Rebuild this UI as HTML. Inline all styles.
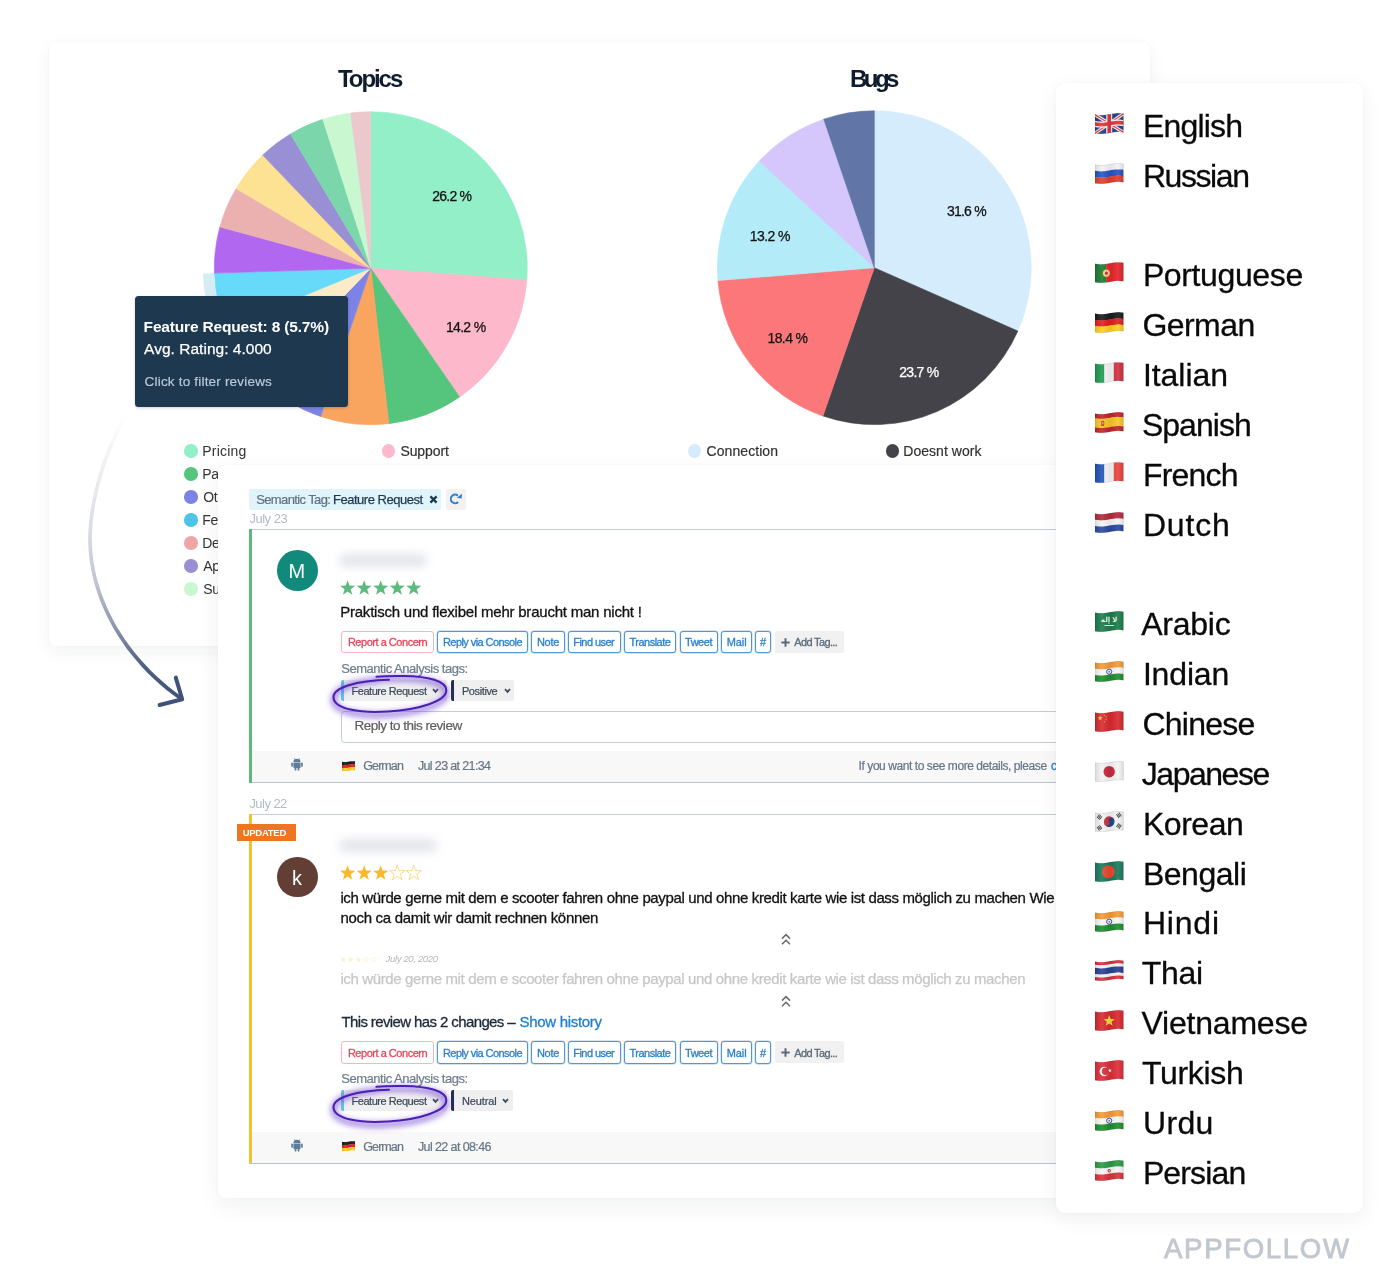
<!DOCTYPE html>
<html lang="en"><head><meta charset="utf-8"><title>AppFollow semantic analysis</title>
<style>
*{box-sizing:border-box;margin:0;padding:0}
html,body{width:1400px;height:1284px;background:#fff;overflow:hidden}
body{position:relative;font-family:"Liberation Sans",sans-serif;color:#111}
.abs{position:absolute}
.t{position:absolute;white-space:nowrap;line-height:1}
.card{position:absolute;background:#fff}
#main{left:49px;top:42px;width:1101px;height:604px;border-radius:7px;box-shadow:0 6px 18px rgba(20,30,50,0.055),0 0 3px rgba(20,30,50,0.03)}
#rev{left:218px;top:465px;width:900px;height:733px;border-radius:7px;box-shadow:0 8px 24px rgba(20,30,50,0.06),0 0 3px rgba(20,30,50,0.03)}
#lang{left:1056px;top:83px;width:307px;height:1130px;border-radius:9px;box-shadow:0 6px 22px rgba(20,30,50,0.06),0 0 3px rgba(20,30,50,0.03)}
.dot{position:absolute;width:13.7px;height:13.7px;border-radius:50%}
.btn{position:absolute;height:22.3px;border:1px solid #4f97d6;border-radius:3px;background:#fff;box-shadow:0 0 0 0.4px rgba(79,151,214,.5)}
.btn.red{border-color:#f8b3bf;box-shadow:none}
.tag{position:absolute;height:21px;background:#efefef;border-radius:2px}
.rc{position:absolute;background:#fff;border:1px solid #c2ccd6;border-top:1.7px solid #c3ccd6;border-bottom:1.4px solid #b9c4cf}
.foot{position:absolute;background:#f8f8f8}
</style></head>
<body>
<svg width="0" height="0" style="position:absolute"><defs>
<linearGradient id="fshade" x1="0" y1="0" x2="1" y2="0"><stop offset="0" stop-color="#000" stop-opacity="0.10"/><stop offset="0.25" stop-color="#fff" stop-opacity="0.10"/><stop offset="0.55" stop-color="#000" stop-opacity="0.06"/><stop offset="0.8" stop-color="#fff" stop-opacity="0.08"/><stop offset="1" stop-color="#000" stop-opacity="0.10"/></linearGradient>
<filter id="glow" x="-30%" y="-60%" width="160%" height="260%"><feGaussianBlur stdDeviation="3.2"/><feOffset dy="3"/></filter>
</defs></svg>
<div class="card" id="main"></div>
<svg class="abs" style="left:0;top:0" width="1150" height="460" viewBox="0 0 1150 460" shape-rendering="geometricPrecision"><path d="M370.80,268.20 L370.80,111.70 A156.5,156.5 0 0 1 526.86,279.93 Z" fill="#93efc8" stroke="#93efc8" stroke-width="0.6"/><path d="M370.80,268.20 L526.86,279.93 A156.5,156.5 0 0 1 459.67,397.02 Z" fill="#fdb9cb" stroke="#fdb9cb" stroke-width="0.6"/><path d="M370.80,268.20 L459.67,397.02 A156.5,156.5 0 0 1 388.79,423.66 Z" fill="#55c57d" stroke="#55c57d" stroke-width="0.6"/><path d="M370.80,268.20 L388.79,423.66 A156.5,156.5 0 0 1 320.62,416.44 Z" fill="#f9a45f" stroke="#f9a45f" stroke-width="0.6"/><path d="M370.80,268.20 L320.62,416.44 A156.5,156.5 0 0 1 262.48,381.16 Z" fill="#7c83e6" stroke="#7c83e6" stroke-width="0.6"/><path d="M370.80,268.20 L262.48,381.16 A156.5,156.5 0 0 1 226.11,327.84 Z" fill="#fdeac6" stroke="#fdeac6" stroke-width="0.6"/><path d="M370.80,268.20 L226.11,327.84 A156.5,156.5 0 0 1 214.38,273.12 Z" fill="#67daf9" stroke="#67daf9" stroke-width="0.6"/><path d="M370.80,268.20 L214.38,273.12 A156.5,156.5 0 0 1 219.85,226.90 Z" fill="#b267f0" stroke="#b267f0" stroke-width="0.6"/><path d="M370.80,268.20 L219.85,226.90 A156.5,156.5 0 0 1 236.09,188.54 Z" fill="#ebb0b0" stroke="#ebb0b0" stroke-width="0.6"/><path d="M370.80,268.20 L236.09,188.54 A156.5,156.5 0 0 1 262.68,155.06 Z" fill="#fde293" stroke="#fde293" stroke-width="0.6"/><path d="M370.80,268.20 L262.68,155.06 A156.5,156.5 0 0 1 290.43,133.91 Z" fill="#998fd4" stroke="#998fd4" stroke-width="0.6"/><path d="M370.80,268.20 L290.43,133.91 A156.5,156.5 0 0 1 322.70,119.28 Z" fill="#7bd6ab" stroke="#7bd6ab" stroke-width="0.6"/><path d="M370.80,268.20 L322.70,119.28 A156.5,156.5 0 0 1 350.64,113.00 Z" fill="#c9f7cf" stroke="#c9f7cf" stroke-width="0.6"/><path d="M370.80,268.20 L350.64,113.00 A156.5,156.5 0 0 1 370.80,111.70 Z" fill="#eac8cc" stroke="#eac8cc" stroke-width="0.6"/><path d="M215.48,332.22 A168.0,168.0 0 0 1 202.88,273.48 L213.88,273.13 A157.0,157.0 0 0 0 225.65,328.03 Z" fill="#d5ecf5"/><path d="M874.30,267.70 L874.30,110.80 A156.9,156.9 0 0 1 1017.86,331.02 Z" fill="#d4ecfb" stroke="#d4ecfb" stroke-width="0.6"/><path d="M874.30,267.70 L1017.86,331.02 A156.9,156.9 0 0 1 822.96,415.96 Z" fill="#434349" stroke="#434349" stroke-width="0.6"/><path d="M874.30,267.70 L822.96,415.96 A156.9,156.9 0 0 1 717.93,280.56 Z" fill="#fc777a" stroke="#fc777a" stroke-width="0.6"/><path d="M874.30,267.70 L717.93,280.56 A156.9,156.9 0 0 1 759.18,161.10 Z" fill="#b3ebf8" stroke="#b3ebf8" stroke-width="0.6"/><path d="M874.30,267.70 L759.18,161.10 A156.9,156.9 0 0 1 823.74,119.17 Z" fill="#d5c7fb" stroke="#d5c7fb" stroke-width="0.6"/><path d="M874.30,267.70 L823.74,119.17 A156.9,156.9 0 0 1 874.30,110.80 Z" fill="#6175a6" stroke="#6175a6" stroke-width="0.6"/></svg>
<span class="t" style="left:338.00px;top:67.10px;font-size:24px;color:#0f1c2e;font-weight:700;letter-spacing:-2.063px;">Topics</span>
<span class="t" style="left:849.90px;top:67.30px;font-size:24px;color:#0f1c2e;font-weight:700;letter-spacing:-3.484px;">Bugs</span>
<span class="t" style="left:432.30px;top:188.60px;font-size:14px;color:#111;letter-spacing:-0.768px;-webkit-text-stroke:0.25px #111;">26.2 %</span>
<span class="t" style="left:445.90px;top:319.80px;font-size:14px;color:#111;letter-spacing:-0.668px;-webkit-text-stroke:0.25px #111;">14.2 %</span>
<span class="t" style="left:947.00px;top:204.10px;font-size:14px;color:#111;letter-spacing:-0.788px;-webkit-text-stroke:0.25px #111;">31.6 %</span>
<span class="t" style="left:899.30px;top:365.00px;font-size:14px;color:#fff;letter-spacing:-0.728px;-webkit-text-stroke:0.25px #fff;">23.7 %</span>
<span class="t" style="left:767.50px;top:331.30px;font-size:14px;color:#111;letter-spacing:-0.608px;-webkit-text-stroke:0.25px #111;">18.4 %</span>
<span class="t" style="left:749.80px;top:228.60px;font-size:14px;color:#111;letter-spacing:-0.588px;-webkit-text-stroke:0.25px #111;">13.2 %</span>
<div class="dot" style="left:183.95px;top:443.85px;background:#93efc8"></div>
<span class="t" style="left:202.30px;top:443.80px;font-size:14px;color:#333;letter-spacing:0.182px;">Pricing</span>
<div class="dot" style="left:183.95px;top:466.88px;background:#55c57d"></div>
<span class="t" style="left:202.30px;top:466.83px;font-size:14px;color:#333;letter-spacing:-0.45px;">Payment</span>
<div class="dot" style="left:183.95px;top:489.91px;background:#7c83e6"></div>
<span class="t" style="left:203.30px;top:489.86px;font-size:14px;color:#333;letter-spacing:-0.45px;">Other</span>
<div class="dot" style="left:183.95px;top:512.94px;background:#4dc3e8"></div>
<span class="t" style="left:202.30px;top:512.89px;font-size:14px;color:#333;letter-spacing:-0.45px;">Feature Request</span>
<div class="dot" style="left:183.95px;top:535.97px;background:#f0a5a5"></div>
<span class="t" style="left:202.30px;top:535.92px;font-size:14px;color:#333;letter-spacing:-0.45px;">Design</span>
<div class="dot" style="left:183.95px;top:559.00px;background:#998fd4"></div>
<span class="t" style="left:203.30px;top:558.95px;font-size:14px;color:#333;letter-spacing:-0.45px;">App</span>
<div class="dot" style="left:183.95px;top:582.03px;background:#c9f7cf"></div>
<span class="t" style="left:203.30px;top:581.98px;font-size:14px;color:#333;letter-spacing:-0.45px;">Subscription</span>
<div class="dot" style="left:381.75px;top:443.85px;background:#fdb9cb"></div>
<span class="t" style="left:400.40px;top:443.80px;font-size:14px;color:#333;letter-spacing:-0.091px;-webkit-text-stroke:0.2px #333;">Support</span>
<div class="abs" style="left:134.9px;top:296px;width:213.2px;height:111.4px;background:#1d384f;border-radius:3.5px;box-shadow:0 1px 3px rgba(0,0,0,.18)"></div>
<span class="t" style="left:143.60px;top:318.50px;font-size:15.5px;color:#fff;font-weight:700;letter-spacing:-0.168px;">Feature Request: 8 (5.7%)</span>
<span class="t" style="left:144.10px;top:340.70px;font-size:15.5px;color:#fff;letter-spacing:0.022px;-webkit-text-stroke:0.25px #fff;">Avg. Rating: 4.000</span>
<span class="t" style="left:144.60px;top:374.90px;font-size:13.5px;color:#b9c9d8;letter-spacing:0.192px;-webkit-text-stroke:0.2px #b9c9d8;">Click to filter reviews</span>
<div class="dot" style="left:687.75px;top:443.85px;background:#d4ecfb"></div>
<span class="t" style="left:706.60px;top:443.80px;font-size:14px;color:#333;letter-spacing:0.062px;-webkit-text-stroke:0.2px #333;">Connection</span>
<div class="dot" style="left:885.55px;top:443.85px;background:#434349"></div>
<span class="t" style="left:903.30px;top:443.80px;font-size:14px;color:#333;letter-spacing:0.029px;-webkit-text-stroke:0.2px #333;">Doesnt work</span>
<svg class="abs" style="left:0;top:380px" width="260" height="360" viewBox="0 380 260 360" fill="none">
<defs><linearGradient id="ag" gradientUnits="userSpaceOnUse" x1="0" y1="415" x2="0" y2="700">
<stop offset="0" stop-color="#41527a" stop-opacity="0"/><stop offset="0.14" stop-color="#41527a" stop-opacity="0.07"/><stop offset="0.4" stop-color="#41527a" stop-opacity="0.2"/><stop offset="0.58" stop-color="#41527a" stop-opacity="0.33"/><stop offset="0.73" stop-color="#41527a" stop-opacity="0.58"/><stop offset="0.88" stop-color="#41527a" stop-opacity="0.92"/><stop offset="1" stop-color="#41527a" stop-opacity="1"/></linearGradient></defs>
<path d="M126.5,411.1 L123.6,415.9 L120.9,420.9 L118.2,426.0 L115.6,431.1 L113.1,436.4 L110.7,441.7 L108.4,447.1 L106.3,452.5 L104.2,458.0 L102.2,463.6 L100.4,469.1 L98.7,474.7 L97.0,480.3 L95.6,485.9 L94.2,491.5 L93.0,497.1 L91.9,502.7 L90.9,508.2 L90.1,513.6 L89.4,519.1 L88.9,524.4 L88.5,529.7 L88.2,534.9 L88.2,540.0 L88.1,540.1 L88.4,547.6 L89.0,555.2 L90.0,562.7 L91.3,570.3 L92.9,577.7 L94.9,585.2 L97.2,592.6 L99.8,599.9 L102.8,607.1 L106.0,614.3 L109.6,621.3 L113.4,628.3 L117.5,635.1 L122.0,641.8 L126.6,648.4 L131.6,654.8 L136.8,661.1 L142.2,667.2 L147.9,673.2 L153.9,679.0 L160.0,684.6 L166.4,689.9 L173.1,695.1 L179.9,700.1 L182.1,696.9 L175.4,692.0 L168.9,686.9 L162.6,681.6 L156.5,676.1 L150.7,670.5 L145.1,664.6 L139.7,658.6 L134.6,652.4 L129.7,646.1 L125.1,639.7 L120.8,633.1 L116.7,626.4 L112.9,619.5 L109.4,612.6 L106.2,605.6 L103.4,598.5 L100.8,591.4 L98.5,584.1 L96.5,576.9 L94.9,569.5 L93.6,562.2 L92.7,554.8 L92.1,547.4 L91.9,539.9 L91.8,540.0 L91.9,535.0 L92.1,529.9 L92.5,524.7 L93.0,519.5 L93.7,514.1 L94.5,508.8 L95.4,503.3 L96.5,497.9 L97.7,492.3 L99.1,486.8 L100.5,481.3 L102.1,475.8 L103.8,470.2 L105.6,464.7 L107.5,459.3 L109.6,453.8 L111.7,448.4 L114.0,443.1 L116.3,437.9 L118.8,432.7 L121.3,427.6 L124.0,422.6 L126.7,417.7 L129.5,412.9Z" fill="url(#ag)"/>
<path d="M175.8,677.6 L182.2,699.3 L159.6,705" stroke="#41527a" stroke-width="4" stroke-linecap="round" stroke-linejoin="round"/>
</svg>
<div class="card" id="rev"></div>
<div class="abs" style="left:249px;top:489px;width:191.5px;height:20.6px;background:#e2f4fb;border-radius:2px"></div>
<span class="t" style="left:256.20px;top:493.00px;font-size:13px;color:#5d7283;letter-spacing:-0.613px;-webkit-text-stroke:0.2px #5d7283;">Semantic Tag:</span>
<span class="t" style="left:333.00px;top:493.00px;font-size:13px;color:#1d384f;letter-spacing:-0.480px;-webkit-text-stroke:0.25px #1d384f;">Feature Request</span>
<svg class="abs" style="left:429px;top:495px" width="9" height="9" viewBox="0 0 9 9"><path d="M1.4,1.4 L7.6,7.6 M7.6,1.4 L1.4,7.6" stroke="#1d384f" stroke-width="2.3"/></svg>
<div class="abs" style="left:445.5px;top:489px;width:20.5px;height:20.6px;background:#f4f2f1;border-radius:2px"></div>
<svg class="abs" style="left:450px;top:493px" width="14" height="13" viewBox="0 0 14 13" fill="none"><path d="M7.86,2.61 A4.3,4.3 0 1 0 8.14,8.94" stroke="#2a80cf" stroke-width="2"/><path d="M6.9,4.7 L11.9,0.7 L11.7,5.6 Z" fill="#2a80cf"/></svg>
<span class="t" style="left:249.40px;top:511.90px;font-size:13px;color:#b3bbc9;letter-spacing:-0.493px;">July 23</span>
<div class="rc" style="left:249px;top:529px;width:870px;height:254px"></div>
<div class="foot" style="left:252px;top:751.2px;width:860px;height:30.8px"></div>
<svg class="abs" style="left:290.6px;top:758.2px" width="12" height="13" viewBox="0 0 12 13" fill="#5d7c9a"><path d="M2.4,4.6 H9.6 V9.3 Q9.6,10 8.9,10 H3.1 Q2.4,10 2.4,9.3 Z"/><path d="M2.4,4.1 A3.6,3.4 0 0 1 9.6,4.1 Z"/><rect x="0.2" y="4.6" width="1.7" height="4.2" rx="0.85"/><rect x="10.1" y="4.6" width="1.7" height="4.2" rx="0.85"/><rect x="3.6" y="9" width="1.8" height="3.6" rx="0.9"/><rect x="6.6" y="9" width="1.8" height="3.6" rx="0.9"/><path d="M3.2,0.2 L4.2,1.6 M8.8,0.2 L7.8,1.6" stroke="#5d7c9a" stroke-width="0.6"/></svg>
<svg class="abs" style="left:341.8px;top:760.5px" width="13.6" height="10.2" viewBox="0 0 29.0 21.0" preserveAspectRatio="none"><path d="M0.00,1.62 L2.07,1.94 L4.14,2.16 L6.21,2.25 L8.29,2.20 L10.36,2.01 L12.43,1.71 L14.50,1.34 L16.57,0.97 L18.64,0.63 L20.71,0.38 L22.79,0.26 L24.86,0.28 L26.93,0.44 L29.00,0.71 L29.00,7.15 L26.93,6.87 L24.86,6.71 L22.79,6.69 L20.71,6.82 L18.64,7.06 L16.57,7.40 L14.50,7.78 L12.43,8.14 L10.36,8.44 L8.29,8.63 L6.21,8.68 L4.14,8.59 L2.07,8.37 L0.00,8.05Z" fill="#1a1a1a" /><path d="M0.00,7.75 L2.07,8.07 L4.14,8.29 L6.21,8.38 L8.29,8.33 L10.36,8.14 L12.43,7.84 L14.50,7.48 L16.57,7.10 L18.64,6.76 L20.71,6.52 L22.79,6.39 L24.86,6.41 L26.93,6.57 L29.00,6.85 L29.00,13.28 L26.93,13.01 L24.86,12.85 L22.79,12.83 L20.71,12.95 L18.64,13.20 L16.57,13.53 L14.50,13.91 L12.43,14.27 L10.36,14.57 L8.29,14.76 L6.21,14.82 L4.14,14.73 L2.07,14.50 L0.00,14.18Z" fill="#e0201f" /><path d="M0.00,13.88 L2.07,14.20 L4.14,14.43 L6.21,14.52 L8.29,14.46 L10.36,14.27 L12.43,13.97 L14.50,13.61 L16.57,13.23 L18.64,12.90 L20.71,12.65 L22.79,12.53 L24.86,12.55 L26.93,12.71 L29.00,12.98 L29.00,19.26 L26.93,18.99 L24.86,18.83 L22.79,18.81 L20.71,18.93 L18.64,19.18 L16.57,19.52 L14.50,19.89 L12.43,20.26 L10.36,20.56 L8.29,20.75 L6.21,20.80 L4.14,20.71 L2.07,20.49 L0.00,20.17Z" fill="#fccf1b" /><path d="M0.00,1.77 L2.07,2.09 L4.14,2.31 L6.21,2.40 L8.29,2.35 L10.36,2.16 L12.43,1.86 L14.50,1.49 L16.57,1.12 L18.64,0.78 L20.71,0.53 L22.79,0.41 L24.86,0.43 L26.93,0.59 L29.00,0.86 L29.00,19.26 L26.93,18.99 L24.86,18.83 L22.79,18.81 L20.71,18.93 L18.64,19.18 L16.57,19.52 L14.50,19.89 L12.43,20.26 L10.36,20.56 L8.29,20.75 L6.21,20.80 L4.14,20.71 L2.07,20.49 L0.00,20.17Z" fill="url(#fshade)" /><path d="M0.00,1.77 L2.07,2.09 L4.14,2.31 L6.21,2.40 L8.29,2.35 L10.36,2.16 L12.43,1.86 L14.50,1.49 L16.57,1.12 L18.64,0.78 L20.71,0.53 L22.79,0.41 L24.86,0.43 L26.93,0.59 L29.00,0.86 L29.00,19.26 L26.93,18.99 L24.86,18.83 L22.79,18.81 L20.71,18.93 L18.64,19.18 L16.57,19.52 L14.50,19.89 L12.43,20.26 L10.36,20.56 L8.29,20.75 L6.21,20.80 L4.14,20.71 L2.07,20.49 L0.00,20.17Z" fill="none" stroke="rgba(0,0,0,0.18)" stroke-width="0.5"/></svg>
<span class="t" style="left:363.30px;top:760.10px;font-size:12.5px;color:#647585;letter-spacing:-0.920px;-webkit-text-stroke:0.2px #647585;">German</span>
<span class="t" style="left:417.90px;top:760.10px;font-size:12.5px;color:#647585;letter-spacing:-0.632px;-webkit-text-stroke:0.2px #647585;">Jul 23 at 21:34</span>
<div class="abs" style="left:249px;top:529.3px;width:3.1px;height:253.6px;background:#5dba7d"></div>
<div class="abs" style="left:277.2px;top:550.1px;width:40.6px;height:40.6px;border-radius:50%;background:#128a7b"></div>
<span class="t" style="left:288.40px;top:560.50px;font-size:20px;color:#fff;">M</span>
<div class="abs" style="left:339px;top:553.5px;width:88px;height:13px;border-radius:6px;background:#d3d6de;filter:blur(5px);opacity:.62"></div>
<svg class="abs" style="left:340px;top:580.2px" width="84.8" height="17.2" viewBox="0 0 84.8 17.2"><polygon points="7.60,0.22 9.48,5.62 15.19,5.73 10.64,9.19 12.29,14.66 7.60,11.39 2.91,14.66 4.56,9.19 0.01,5.73 5.72,5.62" fill="#5dba7d"/><polygon points="24.15,0.22 26.03,5.62 31.74,5.73 27.19,9.19 28.84,14.66 24.15,11.39 19.46,14.66 21.11,9.19 16.56,5.73 22.27,5.62" fill="#5dba7d"/><polygon points="40.70,0.22 42.58,5.62 48.29,5.73 43.74,9.19 45.39,14.66 40.70,11.39 36.01,14.66 37.66,9.19 33.11,5.73 38.82,5.62" fill="#5dba7d"/><polygon points="57.25,0.22 59.13,5.62 64.84,5.73 60.29,9.19 61.94,14.66 57.25,11.39 52.56,14.66 54.21,9.19 49.66,5.73 55.37,5.62" fill="#5dba7d"/><polygon points="73.80,0.22 75.68,5.62 81.39,5.73 76.84,9.19 78.49,14.66 73.80,11.39 69.11,14.66 70.76,9.19 66.21,5.73 71.92,5.62" fill="#5dba7d"/></svg>
<span class="t" style="left:340.20px;top:604.10px;font-size:15px;color:#111;letter-spacing:-0.221px;-webkit-text-stroke:0.3px #111;">Praktisch und flexibel mehr braucht man nicht !</span>
<div class="btn red" style="left:341.1px;top:631.0px;width:93.3px"></div>
<span class="t" style="left:347.90px;top:637.20px;font-size:11px;color:#e8445a;letter-spacing:-0.474px;-webkit-text-stroke:0.3px #e8445a;">Report a Concern</span>
<div class="btn" style="left:437.1px;top:631.0px;width:91.1px"></div>
<span class="t" style="left:443.00px;top:637.20px;font-size:11px;color:#2a7fc9;letter-spacing:-0.571px;-webkit-text-stroke:0.3px #2a7fc9;">Reply via Console</span>
<div class="btn" style="left:531.4px;top:631.0px;width:33.6px"></div>
<span class="t" style="left:536.90px;top:637.20px;font-size:11px;color:#2a7fc9;letter-spacing:-0.239px;-webkit-text-stroke:0.3px #2a7fc9;">Note</span>
<div class="btn" style="left:567.8px;top:631.0px;width:53.0px"></div>
<span class="t" style="left:573.30px;top:637.20px;font-size:11px;color:#2a7fc9;letter-spacing:-0.561px;-webkit-text-stroke:0.3px #2a7fc9;">Find user</span>
<div class="btn" style="left:623.9px;top:631.0px;width:52.4px"></div>
<span class="t" style="left:629.40px;top:637.20px;font-size:11px;color:#2a7fc9;letter-spacing:-0.491px;-webkit-text-stroke:0.3px #2a7fc9;">Translate</span>
<div class="btn" style="left:679.5px;top:631.0px;width:38.5px"></div>
<span class="t" style="left:685.00px;top:637.20px;font-size:11px;color:#2a7fc9;letter-spacing:-0.473px;-webkit-text-stroke:0.3px #2a7fc9;">Tweet</span>
<div class="btn" style="left:721.3px;top:631.0px;width:30.5px"></div>
<span class="t" style="left:726.70px;top:637.20px;font-size:11px;color:#2a7fc9;letter-spacing:-0.075px;-webkit-text-stroke:0.3px #2a7fc9;">Mail</span>
<div class="btn" style="left:755.0px;top:631.0px;width:16.0px"></div>
<span class="t" style="left:760.00px;top:637.20px;font-size:11px;color:#2a7fc9;-webkit-text-stroke:0.3px #2a7fc9;">#</span>
<div class="abs" style="left:775px;top:631.0px;width:68.5px;height:22px;background:#f1f1f1;border-radius:2px"></div>
<svg class="abs" style="left:781px;top:637.5px" width="9" height="9" viewBox="0 0 9 9"><path d="M4.5,0.3 V8.7 M0.3,4.5 H8.7" stroke="#5b6b7a" stroke-width="2"/></svg>
<span class="t" style="left:794.20px;top:637.20px;font-size:11px;color:#5b6b7a;letter-spacing:-0.631px;-webkit-text-stroke:0.3px #5b6b7a;">Add Tag...</span>
<span class="t" style="left:341.30px;top:662.20px;font-size:13px;color:#6d7d8b;letter-spacing:-0.477px;-webkit-text-stroke:0.2px #6d7d8b;">Semantic Analysis tags:</span>
<div class="tag" style="left:341px;top:680px;width:105.8px;border-left:3.2px solid #5fc9ee"></div>
<span class="t" style="left:351.50px;top:685.60px;font-size:11px;color:#3a4858;letter-spacing:-0.463px;-webkit-text-stroke:0.2px #3a4858;">Feature Request</span>
<svg class="abs" style="left:432.3px;top:687.6px" width="7" height="6" viewBox="0 0 7 6" fill="none"><path d="M1,1.2 L3.5,3.9 L6,1.2" stroke="#3a4858" stroke-width="1.7"/></svg>
<div class="tag" style="left:451px;top:680px;width:63.3px;border-left:3.4px solid #1f3050"></div>
<span class="t" style="left:461.90px;top:685.60px;font-size:11px;color:#3a4858;letter-spacing:-0.385px;-webkit-text-stroke:0.2px #3a4858;">Positive</span>
<svg class="abs" style="left:503.6px;top:687.6px" width="7" height="6" viewBox="0 0 7 6" fill="none"><path d="M1,1.2 L3.5,3.9 L6,1.2" stroke="#3a4858" stroke-width="1.7"/></svg>
<div class="abs" style="left:341px;top:710.6px;width:760px;height:32px;border:1px solid #c3ccd6;border-radius:3.5px;background:#fff"></div>
<span class="t" style="left:354.40px;top:718.60px;font-size:13.5px;color:#5c5c5c;letter-spacing:-0.489px;-webkit-text-stroke:0.2px #5c5c5c;">Reply to this review</span>
<svg class="abs" style="left:315.3px;top:660.5px;overflow:visible" width="150" height="70" viewBox="-75 -35 150 70" fill="none">
<g filter="url(#glow)"><path d="M-13,-18.5 C-40,-17 -57,-9 -56.5,1.5 C-56,13 -30,17.5 -2,15.5 C30,13.5 56,5 56.3,-5.5 C56.5,-15 38,-20.5 12,-20.5 C-2,-20.5 -10,-20 -14,-19.3" stroke="#6a3fd0" stroke-opacity="0.8" stroke-width="4.5"/></g>
<path d="M-1,-16.2 C-34,-15.5 -57,-8 -56.5,1.5 C-56,13 -30,17.5 -2,15.5 C30,13.5 56,5 56.3,-5.5 C56.5,-15 38,-19.6 14,-20 C2,-20.2 -8,-19.8 -13.5,-19.2" stroke="#4b1fb4" stroke-width="2.1" stroke-linecap="round"/>
</svg>
<span class="t" style="left:858.60px;top:760.10px;font-size:12px;color:#647585;letter-spacing:-0.429px;-webkit-text-stroke:0.2px #647585;">If you want to see more details, please</span>
<span class="t" style="left:1050.90px;top:760.10px;font-size:12px;color:#2a7fc9;-webkit-text-stroke:0.35px #2a7fc9;">c</span>
<span class="t" style="left:249.40px;top:796.50px;font-size:13px;color:#b3bbc9;letter-spacing:-0.543px;">July 22</span>
<div class="rc" style="left:249px;top:813.6px;width:870px;height:350px"></div>
<div class="foot" style="left:252px;top:1131.8px;width:860px;height:30.8px"></div>
<svg class="abs" style="left:290.6px;top:1138.8px" width="12" height="13" viewBox="0 0 12 13" fill="#5d7c9a"><path d="M2.4,4.6 H9.6 V9.3 Q9.6,10 8.9,10 H3.1 Q2.4,10 2.4,9.3 Z"/><path d="M2.4,4.1 A3.6,3.4 0 0 1 9.6,4.1 Z"/><rect x="0.2" y="4.6" width="1.7" height="4.2" rx="0.85"/><rect x="10.1" y="4.6" width="1.7" height="4.2" rx="0.85"/><rect x="3.6" y="9" width="1.8" height="3.6" rx="0.9"/><rect x="6.6" y="9" width="1.8" height="3.6" rx="0.9"/><path d="M3.2,0.2 L4.2,1.6 M8.8,0.2 L7.8,1.6" stroke="#5d7c9a" stroke-width="0.6"/></svg>
<svg class="abs" style="left:341.8px;top:1141.1px" width="13.6" height="10.2" viewBox="0 0 29.0 21.0" preserveAspectRatio="none"><path d="M0.00,1.62 L2.07,1.94 L4.14,2.16 L6.21,2.25 L8.29,2.20 L10.36,2.01 L12.43,1.71 L14.50,1.34 L16.57,0.97 L18.64,0.63 L20.71,0.38 L22.79,0.26 L24.86,0.28 L26.93,0.44 L29.00,0.71 L29.00,7.15 L26.93,6.87 L24.86,6.71 L22.79,6.69 L20.71,6.82 L18.64,7.06 L16.57,7.40 L14.50,7.78 L12.43,8.14 L10.36,8.44 L8.29,8.63 L6.21,8.68 L4.14,8.59 L2.07,8.37 L0.00,8.05Z" fill="#1a1a1a" /><path d="M0.00,7.75 L2.07,8.07 L4.14,8.29 L6.21,8.38 L8.29,8.33 L10.36,8.14 L12.43,7.84 L14.50,7.48 L16.57,7.10 L18.64,6.76 L20.71,6.52 L22.79,6.39 L24.86,6.41 L26.93,6.57 L29.00,6.85 L29.00,13.28 L26.93,13.01 L24.86,12.85 L22.79,12.83 L20.71,12.95 L18.64,13.20 L16.57,13.53 L14.50,13.91 L12.43,14.27 L10.36,14.57 L8.29,14.76 L6.21,14.82 L4.14,14.73 L2.07,14.50 L0.00,14.18Z" fill="#e0201f" /><path d="M0.00,13.88 L2.07,14.20 L4.14,14.43 L6.21,14.52 L8.29,14.46 L10.36,14.27 L12.43,13.97 L14.50,13.61 L16.57,13.23 L18.64,12.90 L20.71,12.65 L22.79,12.53 L24.86,12.55 L26.93,12.71 L29.00,12.98 L29.00,19.26 L26.93,18.99 L24.86,18.83 L22.79,18.81 L20.71,18.93 L18.64,19.18 L16.57,19.52 L14.50,19.89 L12.43,20.26 L10.36,20.56 L8.29,20.75 L6.21,20.80 L4.14,20.71 L2.07,20.49 L0.00,20.17Z" fill="#fccf1b" /><path d="M0.00,1.77 L2.07,2.09 L4.14,2.31 L6.21,2.40 L8.29,2.35 L10.36,2.16 L12.43,1.86 L14.50,1.49 L16.57,1.12 L18.64,0.78 L20.71,0.53 L22.79,0.41 L24.86,0.43 L26.93,0.59 L29.00,0.86 L29.00,19.26 L26.93,18.99 L24.86,18.83 L22.79,18.81 L20.71,18.93 L18.64,19.18 L16.57,19.52 L14.50,19.89 L12.43,20.26 L10.36,20.56 L8.29,20.75 L6.21,20.80 L4.14,20.71 L2.07,20.49 L0.00,20.17Z" fill="url(#fshade)" /><path d="M0.00,1.77 L2.07,2.09 L4.14,2.31 L6.21,2.40 L8.29,2.35 L10.36,2.16 L12.43,1.86 L14.50,1.49 L16.57,1.12 L18.64,0.78 L20.71,0.53 L22.79,0.41 L24.86,0.43 L26.93,0.59 L29.00,0.86 L29.00,19.26 L26.93,18.99 L24.86,18.83 L22.79,18.81 L20.71,18.93 L18.64,19.18 L16.57,19.52 L14.50,19.89 L12.43,20.26 L10.36,20.56 L8.29,20.75 L6.21,20.80 L4.14,20.71 L2.07,20.49 L0.00,20.17Z" fill="none" stroke="rgba(0,0,0,0.18)" stroke-width="0.5"/></svg>
<span class="t" style="left:363.30px;top:1140.70px;font-size:12.5px;color:#647585;letter-spacing:-0.920px;-webkit-text-stroke:0.2px #647585;">German</span>
<span class="t" style="left:417.90px;top:1140.70px;font-size:12.5px;color:#647585;letter-spacing:-0.597px;-webkit-text-stroke:0.2px #647585;">Jul 22 at 08:46</span>
<div class="abs" style="left:249px;top:814px;width:3.1px;height:349.4px;background:#f6c12f"></div>
<div class="abs" style="left:236.8px;top:824.2px;width:59.2px;height:16.6px;background:#ee7623"></div>
<span class="t" style="left:242.70px;top:828.40px;font-size:9.5px;color:#fff;font-weight:700;letter-spacing:-0.275px;">UPDATED</span>
<div class="abs" style="left:339px;top:838.5px;width:98px;height:13px;border-radius:6px;background:#d3d6de;filter:blur(5px);opacity:.62"></div>
<div class="abs" style="left:277.2px;top:856.7px;width:40.6px;height:40.6px;border-radius:50%;background:#633e35"></div>
<span class="t" style="left:292.10px;top:867.50px;font-size:20px;color:#fff;">k</span>
<svg class="abs" style="left:340px;top:865.0px" width="84.8" height="17.2" viewBox="0 0 84.8 17.2"><polygon points="7.60,0.22 9.48,5.62 15.19,5.73 10.64,9.19 12.29,14.66 7.60,11.39 2.91,14.66 4.56,9.19 0.01,5.73 5.72,5.62" fill="#f7b928"/><polygon points="24.15,0.22 26.03,5.62 31.74,5.73 27.19,9.19 28.84,14.66 24.15,11.39 19.46,14.66 21.11,9.19 16.56,5.73 22.27,5.62" fill="#f7b928"/><polygon points="40.70,0.22 42.58,5.62 48.29,5.73 43.74,9.19 45.39,14.66 40.70,11.39 36.01,14.66 37.66,9.19 33.11,5.73 38.82,5.62" fill="#f7b928"/><polygon points="57.25,0.22 59.13,5.62 64.84,5.73 60.29,9.19 61.94,14.66 57.25,11.39 52.56,14.66 54.21,9.19 49.66,5.73 55.37,5.62" fill="none" stroke="#f7b928" stroke-width="0.9" stroke-opacity="0.6"/><polygon points="73.80,0.22 75.68,5.62 81.39,5.73 76.84,9.19 78.49,14.66 73.80,11.39 69.11,14.66 70.76,9.19 66.21,5.73 71.92,5.62" fill="none" stroke="#f7b928" stroke-width="0.9" stroke-opacity="0.6"/></svg>
<span class="t" style="left:340.40px;top:890.00px;font-size:15px;color:#111;letter-spacing:-0.359px;-webkit-text-stroke:0.3px #111;">ich würde gerne mit dem e scooter fahren ohne paypal und ohne kredit karte wie ist dass möglich zu machen Wie</span>
<span class="t" style="left:340.40px;top:909.50px;font-size:15px;color:#111;letter-spacing:-0.307px;-webkit-text-stroke:0.3px #111;">noch ca damit wir damit rechnen können</span>
<svg class="abs" style="filter:blur(0.5px);left:340px;top:955.8px" width="40.5" height="8.2" viewBox="0 0 40.5 8.2"><polygon points="3.10,0.44 3.87,2.65 6.20,2.69 4.34,4.10 5.01,6.33 3.10,5.00 1.19,6.33 1.86,4.10 0.00,2.69 2.33,2.65" fill="#fdefcc"/><polygon points="10.80,0.44 11.57,2.65 13.90,2.69 12.04,4.10 12.71,6.33 10.80,5.00 8.89,6.33 9.56,4.10 7.70,2.69 10.03,2.65" fill="#fdefcc"/><polygon points="18.50,0.44 19.27,2.65 21.60,2.69 19.74,4.10 20.41,6.33 18.50,5.00 16.59,6.33 17.26,4.10 15.40,2.69 17.73,2.65" fill="#fdefcc"/><polygon points="26.20,0.44 26.97,2.65 29.30,2.69 27.44,4.10 28.11,6.33 26.20,5.00 24.29,6.33 24.96,4.10 23.10,2.69 25.43,2.65" fill="none" stroke="#fdefcc" stroke-width="0.9" stroke-opacity="0.6"/><polygon points="33.90,0.44 34.67,2.65 37.00,2.69 35.14,4.10 35.81,6.33 33.90,5.00 31.99,6.33 32.66,4.10 30.80,2.69 33.13,2.65" fill="none" stroke="#fdefcc" stroke-width="0.9" stroke-opacity="0.6"/></svg>
<span class="t" style="left:385.60px;top:953.80px;font-size:9.5px;color:#b8b8b8;font-style:italic;letter-spacing:-0.344px;">July 20, 2020</span>
<span class="t" style="left:340.40px;top:970.80px;font-size:15px;color:#c6c6c6;letter-spacing:-0.363px;-webkit-text-stroke:0.25px #c6c6c6;">ich würde gerne mit dem e scooter fahren ohne paypal und ohne kredit karte wie ist dass möglich zu machen</span>
<svg class="abs" style="left:781.3px;top:933.3px" width="10" height="13" viewBox="0 0 10 13" fill="none"><path d="M1,5.6 L5,1.6 L9,5.6 M1,11.2 L5,7.2 L9,11.2" stroke="#6a6a6a" stroke-width="1.5"/></svg>
<svg class="abs" style="left:781.3px;top:995.3px" width="10" height="13" viewBox="0 0 10 13" fill="none"><path d="M1,5.6 L5,1.6 L9,5.6 M1,11.2 L5,7.2 L9,11.2" stroke="#6a6a6a" stroke-width="1.5"/></svg>
<span class="t" style="left:341.40px;top:1014.00px;font-size:15px;color:#1b2837;letter-spacing:-0.610px;-webkit-text-stroke:0.3px #1b2837;">This review has 2 changes –</span>
<span class="t" style="left:519.60px;top:1014.00px;font-size:15px;color:#1f7fd0;letter-spacing:-0.315px;-webkit-text-stroke:0.3px #1f7fd0;">Show history</span>
<div class="btn red" style="left:341.1px;top:1041.3px;width:93.3px"></div>
<span class="t" style="left:347.90px;top:1047.50px;font-size:11px;color:#e8445a;letter-spacing:-0.474px;-webkit-text-stroke:0.3px #e8445a;">Report a Concern</span>
<div class="btn" style="left:437.1px;top:1041.3px;width:91.1px"></div>
<span class="t" style="left:443.00px;top:1047.50px;font-size:11px;color:#2a7fc9;letter-spacing:-0.571px;-webkit-text-stroke:0.3px #2a7fc9;">Reply via Console</span>
<div class="btn" style="left:531.4px;top:1041.3px;width:33.6px"></div>
<span class="t" style="left:536.90px;top:1047.50px;font-size:11px;color:#2a7fc9;letter-spacing:-0.239px;-webkit-text-stroke:0.3px #2a7fc9;">Note</span>
<div class="btn" style="left:567.8px;top:1041.3px;width:53.0px"></div>
<span class="t" style="left:573.30px;top:1047.50px;font-size:11px;color:#2a7fc9;letter-spacing:-0.561px;-webkit-text-stroke:0.3px #2a7fc9;">Find user</span>
<div class="btn" style="left:623.9px;top:1041.3px;width:52.4px"></div>
<span class="t" style="left:629.40px;top:1047.50px;font-size:11px;color:#2a7fc9;letter-spacing:-0.491px;-webkit-text-stroke:0.3px #2a7fc9;">Translate</span>
<div class="btn" style="left:679.5px;top:1041.3px;width:38.5px"></div>
<span class="t" style="left:685.00px;top:1047.50px;font-size:11px;color:#2a7fc9;letter-spacing:-0.473px;-webkit-text-stroke:0.3px #2a7fc9;">Tweet</span>
<div class="btn" style="left:721.3px;top:1041.3px;width:30.5px"></div>
<span class="t" style="left:726.70px;top:1047.50px;font-size:11px;color:#2a7fc9;letter-spacing:-0.075px;-webkit-text-stroke:0.3px #2a7fc9;">Mail</span>
<div class="btn" style="left:755.0px;top:1041.3px;width:16.0px"></div>
<span class="t" style="left:760.00px;top:1047.50px;font-size:11px;color:#2a7fc9;-webkit-text-stroke:0.3px #2a7fc9;">#</span>
<div class="abs" style="left:775px;top:1041.3px;width:68.5px;height:22px;background:#f1f1f1;border-radius:2px"></div>
<svg class="abs" style="left:781px;top:1047.8px" width="9" height="9" viewBox="0 0 9 9"><path d="M4.5,0.3 V8.7 M0.3,4.5 H8.7" stroke="#5b6b7a" stroke-width="2"/></svg>
<span class="t" style="left:794.20px;top:1047.50px;font-size:11px;color:#5b6b7a;letter-spacing:-0.631px;-webkit-text-stroke:0.3px #5b6b7a;">Add Tag...</span>
<span class="t" style="left:341.30px;top:1072.20px;font-size:13px;color:#6d7d8b;letter-spacing:-0.477px;-webkit-text-stroke:0.2px #6d7d8b;">Semantic Analysis tags:</span>
<div class="tag" style="left:341px;top:1090px;width:105.8px;border-left:3.2px solid #5fc9ee"></div>
<span class="t" style="left:351.50px;top:1095.60px;font-size:11px;color:#3a4858;letter-spacing:-0.463px;-webkit-text-stroke:0.2px #3a4858;">Feature Request</span>
<svg class="abs" style="left:432.3px;top:1097.6px" width="7" height="6" viewBox="0 0 7 6" fill="none"><path d="M1,1.2 L3.5,3.9 L6,1.2" stroke="#3a4858" stroke-width="1.7"/></svg>
<div class="tag" style="left:451px;top:1090px;width:62.2px;border-left:3.4px solid #1f3050"></div>
<span class="t" style="left:461.90px;top:1095.60px;font-size:11px;color:#3a4858;letter-spacing:-0.119px;-webkit-text-stroke:0.2px #3a4858;">Neutral</span>
<svg class="abs" style="left:502.2px;top:1097.6px" width="7" height="6" viewBox="0 0 7 6" fill="none"><path d="M1,1.2 L3.5,3.9 L6,1.2" stroke="#3a4858" stroke-width="1.7"/></svg>
<svg class="abs" style="left:315.3px;top:1070.5px;overflow:visible" width="150" height="70" viewBox="-75 -35 150 70" fill="none">
<g filter="url(#glow)"><path d="M-13,-18.5 C-40,-17 -57,-9 -56.5,1.5 C-56,13 -30,17.5 -2,15.5 C30,13.5 56,5 56.3,-5.5 C56.5,-15 38,-20.5 12,-20.5 C-2,-20.5 -10,-20 -14,-19.3" stroke="#6a3fd0" stroke-opacity="0.8" stroke-width="4.5"/></g>
<path d="M-1,-16.2 C-34,-15.5 -57,-8 -56.5,1.5 C-56,13 -30,17.5 -2,15.5 C30,13.5 56,5 56.3,-5.5 C56.5,-15 38,-19.6 14,-20 C2,-20.2 -8,-19.8 -13.5,-19.2" stroke="#4b1fb4" stroke-width="2.1" stroke-linecap="round"/>
</svg>
<div class="card" id="lang"></div>
<svg class="abs" style="left:1095.3px;top:112.9px" width="28.4" height="21" viewBox="0 0 29.0 21.0" preserveAspectRatio="none"><path d="M0.00,1.62 L2.07,1.94 L4.14,2.16 L6.21,2.25 L8.29,2.20 L10.36,2.01 L12.43,1.71 L14.50,1.34 L16.57,0.97 L18.64,0.63 L20.71,0.38 L22.79,0.26 L24.86,0.28 L26.93,0.44 L29.00,0.71 L29.00,19.26 L26.93,18.99 L24.86,18.83 L22.79,18.81 L20.71,18.93 L18.64,19.18 L16.57,19.52 L14.50,19.89 L12.43,20.26 L10.36,20.56 L8.29,20.75 L6.21,20.80 L4.14,20.71 L2.07,20.49 L0.00,20.17Z" fill="#223a8c" /><path d="M0.00,1.77 L29.00,19.26" stroke="#f4f4f4" stroke-width="3.4"/><path d="M0.00,20.17 L29.00,0.86" stroke="#f4f4f4" stroke-width="3.4"/><path d="M0.00,1.77 L29.00,19.26" stroke="#e03a3a" stroke-width="1.2"/><path d="M0.00,20.17 L29.00,0.86" stroke="#e03a3a" stroke-width="1.2"/><path d="M0.00,7.87 L2.07,8.19 L4.14,8.41 L6.21,8.50 L8.29,8.45 L10.36,8.26 L12.43,7.96 L14.50,7.59 L16.57,7.22 L18.64,6.88 L20.71,6.63 L22.79,6.51 L24.86,6.53 L26.93,6.69 L29.00,6.96 L29.00,13.16 L26.93,12.89 L24.86,12.73 L22.79,12.71 L20.71,12.83 L18.64,13.08 L16.57,13.42 L14.50,13.79 L12.43,14.16 L10.36,14.46 L8.29,14.65 L6.21,14.70 L4.14,14.61 L2.07,14.39 L0.00,14.07Z" fill="#f4f4f4" /><path d="M11.40,2.02 L13.47,1.68 L15.53,1.30 L17.60,0.94 L17.60,19.34 L15.53,19.70 L13.47,20.08 L11.40,20.42Z" fill="#f4f4f4" /><path d="M0.00,9.17 L2.07,9.49 L4.14,9.71 L6.21,9.80 L8.29,9.75 L10.36,9.56 L12.43,9.26 L14.50,8.89 L16.57,8.52 L18.64,8.18 L20.71,7.93 L22.79,7.81 L24.86,7.83 L26.93,7.99 L29.00,8.26 L29.00,11.86 L26.93,11.59 L24.86,11.43 L22.79,11.41 L20.71,11.53 L18.64,11.78 L16.57,12.12 L14.50,12.49 L12.43,12.86 L10.36,13.16 L8.29,13.35 L6.21,13.40 L4.14,13.31 L2.07,13.09 L0.00,12.77Z" fill="#e0353a" /><path d="M12.70,1.81 L13.90,1.60 L15.10,1.38 L16.30,1.16 L16.30,19.56 L15.10,19.78 L13.90,20.00 L12.70,20.21Z" fill="#e0353a" /><path d="M0.00,1.77 L2.07,2.09 L4.14,2.31 L6.21,2.40 L8.29,2.35 L10.36,2.16 L12.43,1.86 L14.50,1.49 L16.57,1.12 L18.64,0.78 L20.71,0.53 L22.79,0.41 L24.86,0.43 L26.93,0.59 L29.00,0.86 L29.00,19.26 L26.93,18.99 L24.86,18.83 L22.79,18.81 L20.71,18.93 L18.64,19.18 L16.57,19.52 L14.50,19.89 L12.43,20.26 L10.36,20.56 L8.29,20.75 L6.21,20.80 L4.14,20.71 L2.07,20.49 L0.00,20.17Z" fill="url(#fshade)" /><path d="M0.00,1.77 L2.07,2.09 L4.14,2.31 L6.21,2.40 L8.29,2.35 L10.36,2.16 L12.43,1.86 L14.50,1.49 L16.57,1.12 L18.64,0.78 L20.71,0.53 L22.79,0.41 L24.86,0.43 L26.93,0.59 L29.00,0.86 L29.00,19.26 L26.93,18.99 L24.86,18.83 L22.79,18.81 L20.71,18.93 L18.64,19.18 L16.57,19.52 L14.50,19.89 L12.43,20.26 L10.36,20.56 L8.29,20.75 L6.21,20.80 L4.14,20.71 L2.07,20.49 L0.00,20.17Z" fill="none" stroke="rgba(0,0,0,0.18)" stroke-width="0.5"/></svg>
<span class="t" style="left:1142.90px;top:109.80px;font-size:32px;color:#0a0a0a;letter-spacing:-0.809px;-webkit-text-stroke:0.3px #0a0a0a;">English</span>
<svg class="abs" style="left:1095.3px;top:162.75px" width="28.4" height="21" viewBox="0 0 29.0 21.0" preserveAspectRatio="none"><path d="M0.00,1.62 L2.07,1.94 L4.14,2.16 L6.21,2.25 L8.29,2.20 L10.36,2.01 L12.43,1.71 L14.50,1.34 L16.57,0.97 L18.64,0.63 L20.71,0.38 L22.79,0.26 L24.86,0.28 L26.93,0.44 L29.00,0.71 L29.00,7.15 L26.93,6.87 L24.86,6.71 L22.79,6.69 L20.71,6.82 L18.64,7.06 L16.57,7.40 L14.50,7.78 L12.43,8.14 L10.36,8.44 L8.29,8.63 L6.21,8.68 L4.14,8.59 L2.07,8.37 L0.00,8.05Z" fill="#f3f3f3" /><path d="M0.00,7.75 L2.07,8.07 L4.14,8.29 L6.21,8.38 L8.29,8.33 L10.36,8.14 L12.43,7.84 L14.50,7.48 L16.57,7.10 L18.64,6.76 L20.71,6.52 L22.79,6.39 L24.86,6.41 L26.93,6.57 L29.00,6.85 L29.00,13.28 L26.93,13.01 L24.86,12.85 L22.79,12.83 L20.71,12.95 L18.64,13.20 L16.57,13.53 L14.50,13.91 L12.43,14.27 L10.36,14.57 L8.29,14.76 L6.21,14.82 L4.14,14.73 L2.07,14.50 L0.00,14.18Z" fill="#2454c4" /><path d="M0.00,13.88 L2.07,14.20 L4.14,14.43 L6.21,14.52 L8.29,14.46 L10.36,14.27 L12.43,13.97 L14.50,13.61 L16.57,13.23 L18.64,12.90 L20.71,12.65 L22.79,12.53 L24.86,12.55 L26.93,12.71 L29.00,12.98 L29.00,19.26 L26.93,18.99 L24.86,18.83 L22.79,18.81 L20.71,18.93 L18.64,19.18 L16.57,19.52 L14.50,19.89 L12.43,20.26 L10.36,20.56 L8.29,20.75 L6.21,20.80 L4.14,20.71 L2.07,20.49 L0.00,20.17Z" fill="#e04030" /><path d="M0.00,1.77 L2.07,2.09 L4.14,2.31 L6.21,2.40 L8.29,2.35 L10.36,2.16 L12.43,1.86 L14.50,1.49 L16.57,1.12 L18.64,0.78 L20.71,0.53 L22.79,0.41 L24.86,0.43 L26.93,0.59 L29.00,0.86 L29.00,19.26 L26.93,18.99 L24.86,18.83 L22.79,18.81 L20.71,18.93 L18.64,19.18 L16.57,19.52 L14.50,19.89 L12.43,20.26 L10.36,20.56 L8.29,20.75 L6.21,20.80 L4.14,20.71 L2.07,20.49 L0.00,20.17Z" fill="url(#fshade)" /><path d="M0.00,1.77 L2.07,2.09 L4.14,2.31 L6.21,2.40 L8.29,2.35 L10.36,2.16 L12.43,1.86 L14.50,1.49 L16.57,1.12 L18.64,0.78 L20.71,0.53 L22.79,0.41 L24.86,0.43 L26.93,0.59 L29.00,0.86 L29.00,19.26 L26.93,18.99 L24.86,18.83 L22.79,18.81 L20.71,18.93 L18.64,19.18 L16.57,19.52 L14.50,19.89 L12.43,20.26 L10.36,20.56 L8.29,20.75 L6.21,20.80 L4.14,20.71 L2.07,20.49 L0.00,20.17Z" fill="none" stroke="rgba(0,0,0,0.18)" stroke-width="0.5"/></svg>
<span class="t" style="left:1142.90px;top:159.65px;font-size:32px;color:#0a0a0a;letter-spacing:-1.419px;-webkit-text-stroke:0.3px #0a0a0a;">Russian</span>
<svg class="abs" style="left:1095.3px;top:262.45000000000005px" width="28.4" height="21" viewBox="0 0 29.0 21.0" preserveAspectRatio="none"><path d="M0.00,1.77 L1.96,2.07 L3.92,2.29 L5.88,2.39 L7.83,2.37 L9.79,2.22 L11.75,1.97 L11.75,20.37 L9.79,20.62 L7.83,20.77 L5.88,20.79 L3.92,20.69 L1.96,20.47 L0.00,20.17Z" fill="#1d7a33" /><path d="M11.45,2.01 L14.38,1.52 L17.30,0.99 L20.23,0.58 L23.15,0.40 L26.07,0.51 L29.00,0.86 L29.00,19.26 L26.07,18.91 L23.15,18.80 L20.23,18.98 L17.30,19.39 L14.38,19.92 L11.45,20.41Z" fill="#e3262c" /><circle cx="11.60" cy="11.19" r="3.6" fill="#f5d23a" /><circle cx="11.60" cy="11.19" r="2.2" fill="#e3262c" stroke="#fff" stroke-width="0.8"/><path d="M0.00,1.77 L2.07,2.09 L4.14,2.31 L6.21,2.40 L8.29,2.35 L10.36,2.16 L12.43,1.86 L14.50,1.49 L16.57,1.12 L18.64,0.78 L20.71,0.53 L22.79,0.41 L24.86,0.43 L26.93,0.59 L29.00,0.86 L29.00,19.26 L26.93,18.99 L24.86,18.83 L22.79,18.81 L20.71,18.93 L18.64,19.18 L16.57,19.52 L14.50,19.89 L12.43,20.26 L10.36,20.56 L8.29,20.75 L6.21,20.80 L4.14,20.71 L2.07,20.49 L0.00,20.17Z" fill="url(#fshade)" /><path d="M0.00,1.77 L2.07,2.09 L4.14,2.31 L6.21,2.40 L8.29,2.35 L10.36,2.16 L12.43,1.86 L14.50,1.49 L16.57,1.12 L18.64,0.78 L20.71,0.53 L22.79,0.41 L24.86,0.43 L26.93,0.59 L29.00,0.86 L29.00,19.26 L26.93,18.99 L24.86,18.83 L22.79,18.81 L20.71,18.93 L18.64,19.18 L16.57,19.52 L14.50,19.89 L12.43,20.26 L10.36,20.56 L8.29,20.75 L6.21,20.80 L4.14,20.71 L2.07,20.49 L0.00,20.17Z" fill="none" stroke="rgba(0,0,0,0.18)" stroke-width="0.5"/></svg>
<span class="t" style="left:1142.90px;top:259.35px;font-size:32px;color:#0a0a0a;letter-spacing:-0.375px;-webkit-text-stroke:0.3px #0a0a0a;">Portuguese</span>
<svg class="abs" style="left:1095.3px;top:312.30000000000007px" width="28.4" height="21" viewBox="0 0 29.0 21.0" preserveAspectRatio="none"><path d="M0.00,1.62 L2.07,1.94 L4.14,2.16 L6.21,2.25 L8.29,2.20 L10.36,2.01 L12.43,1.71 L14.50,1.34 L16.57,0.97 L18.64,0.63 L20.71,0.38 L22.79,0.26 L24.86,0.28 L26.93,0.44 L29.00,0.71 L29.00,7.15 L26.93,6.87 L24.86,6.71 L22.79,6.69 L20.71,6.82 L18.64,7.06 L16.57,7.40 L14.50,7.78 L12.43,8.14 L10.36,8.44 L8.29,8.63 L6.21,8.68 L4.14,8.59 L2.07,8.37 L0.00,8.05Z" fill="#1a1a1a" /><path d="M0.00,7.75 L2.07,8.07 L4.14,8.29 L6.21,8.38 L8.29,8.33 L10.36,8.14 L12.43,7.84 L14.50,7.48 L16.57,7.10 L18.64,6.76 L20.71,6.52 L22.79,6.39 L24.86,6.41 L26.93,6.57 L29.00,6.85 L29.00,13.28 L26.93,13.01 L24.86,12.85 L22.79,12.83 L20.71,12.95 L18.64,13.20 L16.57,13.53 L14.50,13.91 L12.43,14.27 L10.36,14.57 L8.29,14.76 L6.21,14.82 L4.14,14.73 L2.07,14.50 L0.00,14.18Z" fill="#e0201f" /><path d="M0.00,13.88 L2.07,14.20 L4.14,14.43 L6.21,14.52 L8.29,14.46 L10.36,14.27 L12.43,13.97 L14.50,13.61 L16.57,13.23 L18.64,12.90 L20.71,12.65 L22.79,12.53 L24.86,12.55 L26.93,12.71 L29.00,12.98 L29.00,19.26 L26.93,18.99 L24.86,18.83 L22.79,18.81 L20.71,18.93 L18.64,19.18 L16.57,19.52 L14.50,19.89 L12.43,20.26 L10.36,20.56 L8.29,20.75 L6.21,20.80 L4.14,20.71 L2.07,20.49 L0.00,20.17Z" fill="#fccf1b" /><path d="M0.00,1.77 L2.07,2.09 L4.14,2.31 L6.21,2.40 L8.29,2.35 L10.36,2.16 L12.43,1.86 L14.50,1.49 L16.57,1.12 L18.64,0.78 L20.71,0.53 L22.79,0.41 L24.86,0.43 L26.93,0.59 L29.00,0.86 L29.00,19.26 L26.93,18.99 L24.86,18.83 L22.79,18.81 L20.71,18.93 L18.64,19.18 L16.57,19.52 L14.50,19.89 L12.43,20.26 L10.36,20.56 L8.29,20.75 L6.21,20.80 L4.14,20.71 L2.07,20.49 L0.00,20.17Z" fill="url(#fshade)" /><path d="M0.00,1.77 L2.07,2.09 L4.14,2.31 L6.21,2.40 L8.29,2.35 L10.36,2.16 L12.43,1.86 L14.50,1.49 L16.57,1.12 L18.64,0.78 L20.71,0.53 L22.79,0.41 L24.86,0.43 L26.93,0.59 L29.00,0.86 L29.00,19.26 L26.93,18.99 L24.86,18.83 L22.79,18.81 L20.71,18.93 L18.64,19.18 L16.57,19.52 L14.50,19.89 L12.43,20.26 L10.36,20.56 L8.29,20.75 L6.21,20.80 L4.14,20.71 L2.07,20.49 L0.00,20.17Z" fill="none" stroke="rgba(0,0,0,0.18)" stroke-width="0.5"/></svg>
<span class="t" style="left:1142.40px;top:309.20px;font-size:32px;color:#0a0a0a;letter-spacing:-0.539px;-webkit-text-stroke:0.3px #0a0a0a;">German</span>
<svg class="abs" style="left:1095.3px;top:362.15000000000003px" width="28.4" height="21" viewBox="0 0 29.0 21.0" preserveAspectRatio="none"><path d="M0.00,1.77 L1.64,2.03 L3.27,2.23 L4.91,2.36 L6.54,2.40 L8.18,2.35 L9.82,2.22 L9.82,20.62 L8.18,20.75 L6.54,20.80 L4.91,20.76 L3.27,20.63 L1.64,20.43 L0.00,20.17Z" fill="#1f9a50" /><path d="M9.52,2.25 L11.18,2.05 L12.84,1.79 L14.50,1.49 L16.16,1.19 L17.82,0.91 L19.48,0.67 L19.48,19.07 L17.82,19.31 L16.16,19.59 L14.50,19.89 L12.84,20.19 L11.18,20.45 L9.52,20.65Z" fill="#f5f5f5" /><path d="M19.18,0.71 L20.82,0.52 L22.46,0.42 L24.09,0.41 L25.73,0.48 L27.36,0.64 L29.00,0.86 L29.00,19.26 L27.36,19.04 L25.73,18.88 L24.09,18.81 L22.46,18.82 L20.82,18.92 L19.18,19.11Z" fill="#cf3340" /><path d="M0.00,1.77 L2.07,2.09 L4.14,2.31 L6.21,2.40 L8.29,2.35 L10.36,2.16 L12.43,1.86 L14.50,1.49 L16.57,1.12 L18.64,0.78 L20.71,0.53 L22.79,0.41 L24.86,0.43 L26.93,0.59 L29.00,0.86 L29.00,19.26 L26.93,18.99 L24.86,18.83 L22.79,18.81 L20.71,18.93 L18.64,19.18 L16.57,19.52 L14.50,19.89 L12.43,20.26 L10.36,20.56 L8.29,20.75 L6.21,20.80 L4.14,20.71 L2.07,20.49 L0.00,20.17Z" fill="url(#fshade)" /><path d="M0.00,1.77 L2.07,2.09 L4.14,2.31 L6.21,2.40 L8.29,2.35 L10.36,2.16 L12.43,1.86 L14.50,1.49 L16.57,1.12 L18.64,0.78 L20.71,0.53 L22.79,0.41 L24.86,0.43 L26.93,0.59 L29.00,0.86 L29.00,19.26 L26.93,18.99 L24.86,18.83 L22.79,18.81 L20.71,18.93 L18.64,19.18 L16.57,19.52 L14.50,19.89 L12.43,20.26 L10.36,20.56 L8.29,20.75 L6.21,20.80 L4.14,20.71 L2.07,20.49 L0.00,20.17Z" fill="none" stroke="rgba(0,0,0,0.18)" stroke-width="0.5"/></svg>
<span class="t" style="left:1142.90px;top:359.05px;font-size:32px;color:#0a0a0a;letter-spacing:-0.049px;-webkit-text-stroke:0.3px #0a0a0a;">Italian</span>
<svg class="abs" style="left:1095.3px;top:412.00000000000006px" width="28.4" height="21" viewBox="0 0 29.0 21.0" preserveAspectRatio="none"><path d="M0.00,1.62 L2.07,1.94 L4.14,2.16 L6.21,2.25 L8.29,2.20 L10.36,2.01 L12.43,1.71 L14.50,1.34 L16.57,0.97 L18.64,0.63 L20.71,0.38 L22.79,0.26 L24.86,0.28 L26.93,0.44 L29.00,0.71 L29.00,5.61 L26.93,5.34 L24.86,5.18 L22.79,5.16 L20.71,5.28 L18.64,5.53 L16.57,5.87 L14.50,6.24 L12.43,6.61 L10.36,6.91 L8.29,7.10 L6.21,7.15 L4.14,7.06 L2.07,6.84 L0.00,6.52Z" fill="#c4232c" /><path d="M0.00,6.22 L2.07,6.54 L4.14,6.76 L6.21,6.85 L8.29,6.80 L10.36,6.61 L12.43,6.31 L14.50,5.94 L16.57,5.57 L18.64,5.23 L20.71,4.98 L22.79,4.86 L24.86,4.88 L26.93,5.04 L29.00,5.31 L29.00,14.81 L26.93,14.54 L24.86,14.38 L22.79,14.36 L20.71,14.48 L18.64,14.73 L16.57,15.07 L14.50,15.44 L12.43,15.81 L10.36,16.11 L8.29,16.30 L6.21,16.35 L4.14,16.26 L2.07,16.04 L0.00,15.72Z" fill="#f6c628" /><path d="M0.00,15.42 L2.07,15.74 L4.14,15.96 L6.21,16.05 L8.29,16.00 L10.36,15.81 L12.43,15.51 L14.50,15.14 L16.57,14.77 L18.64,14.43 L20.71,14.18 L22.79,14.06 L24.86,14.08 L26.93,14.24 L29.00,14.51 L29.00,19.26 L26.93,18.99 L24.86,18.83 L22.79,18.81 L20.71,18.93 L18.64,19.18 L16.57,19.52 L14.50,19.89 L12.43,20.26 L10.36,20.56 L8.29,20.75 L6.21,20.80 L4.14,20.71 L2.07,20.49 L0.00,20.17Z" fill="#c4232c" /><rect x="6.2" y="8.68" width="3.2" height="5.4" rx="0.8" fill="#b5382a"/><rect x="6.9" y="9.78" width="1.8" height="2.6" fill="#d8a05a"/><path d="M0.00,1.77 L2.07,2.09 L4.14,2.31 L6.21,2.40 L8.29,2.35 L10.36,2.16 L12.43,1.86 L14.50,1.49 L16.57,1.12 L18.64,0.78 L20.71,0.53 L22.79,0.41 L24.86,0.43 L26.93,0.59 L29.00,0.86 L29.00,19.26 L26.93,18.99 L24.86,18.83 L22.79,18.81 L20.71,18.93 L18.64,19.18 L16.57,19.52 L14.50,19.89 L12.43,20.26 L10.36,20.56 L8.29,20.75 L6.21,20.80 L4.14,20.71 L2.07,20.49 L0.00,20.17Z" fill="url(#fshade)" /><path d="M0.00,1.77 L2.07,2.09 L4.14,2.31 L6.21,2.40 L8.29,2.35 L10.36,2.16 L12.43,1.86 L14.50,1.49 L16.57,1.12 L18.64,0.78 L20.71,0.53 L22.79,0.41 L24.86,0.43 L26.93,0.59 L29.00,0.86 L29.00,19.26 L26.93,18.99 L24.86,18.83 L22.79,18.81 L20.71,18.93 L18.64,19.18 L16.57,19.52 L14.50,19.89 L12.43,20.26 L10.36,20.56 L8.29,20.75 L6.21,20.80 L4.14,20.71 L2.07,20.49 L0.00,20.17Z" fill="none" stroke="rgba(0,0,0,0.18)" stroke-width="0.5"/></svg>
<span class="t" style="left:1141.90px;top:408.90px;font-size:32px;color:#0a0a0a;letter-spacing:-0.957px;-webkit-text-stroke:0.3px #0a0a0a;">Spanish</span>
<svg class="abs" style="left:1095.3px;top:461.85px" width="28.4" height="21" viewBox="0 0 29.0 21.0" preserveAspectRatio="none"><path d="M0.00,1.77 L1.64,2.03 L3.27,2.23 L4.91,2.36 L6.54,2.40 L8.18,2.35 L9.82,2.22 L9.82,20.62 L8.18,20.75 L6.54,20.80 L4.91,20.76 L3.27,20.63 L1.64,20.43 L0.00,20.17Z" fill="#2054b4" /><path d="M9.52,2.25 L11.18,2.05 L12.84,1.79 L14.50,1.49 L16.16,1.19 L17.82,0.91 L19.48,0.67 L19.48,19.07 L17.82,19.31 L16.16,19.59 L14.50,19.89 L12.84,20.19 L11.18,20.45 L9.52,20.65Z" fill="#f5f5f5" /><path d="M19.18,0.71 L20.82,0.52 L22.46,0.42 L24.09,0.41 L25.73,0.48 L27.36,0.64 L29.00,0.86 L29.00,19.26 L27.36,19.04 L25.73,18.88 L24.09,18.81 L22.46,18.82 L20.82,18.92 L19.18,19.11Z" fill="#e8453c" /><path d="M0.00,1.77 L2.07,2.09 L4.14,2.31 L6.21,2.40 L8.29,2.35 L10.36,2.16 L12.43,1.86 L14.50,1.49 L16.57,1.12 L18.64,0.78 L20.71,0.53 L22.79,0.41 L24.86,0.43 L26.93,0.59 L29.00,0.86 L29.00,19.26 L26.93,18.99 L24.86,18.83 L22.79,18.81 L20.71,18.93 L18.64,19.18 L16.57,19.52 L14.50,19.89 L12.43,20.26 L10.36,20.56 L8.29,20.75 L6.21,20.80 L4.14,20.71 L2.07,20.49 L0.00,20.17Z" fill="url(#fshade)" /><path d="M0.00,1.77 L2.07,2.09 L4.14,2.31 L6.21,2.40 L8.29,2.35 L10.36,2.16 L12.43,1.86 L14.50,1.49 L16.57,1.12 L18.64,0.78 L20.71,0.53 L22.79,0.41 L24.86,0.43 L26.93,0.59 L29.00,0.86 L29.00,19.26 L26.93,18.99 L24.86,18.83 L22.79,18.81 L20.71,18.93 L18.64,19.18 L16.57,19.52 L14.50,19.89 L12.43,20.26 L10.36,20.56 L8.29,20.75 L6.21,20.80 L4.14,20.71 L2.07,20.49 L0.00,20.17Z" fill="none" stroke="rgba(0,0,0,0.18)" stroke-width="0.5"/></svg>
<span class="t" style="left:1142.90px;top:458.75px;font-size:32px;color:#0a0a0a;letter-spacing:-0.779px;-webkit-text-stroke:0.3px #0a0a0a;">French</span>
<svg class="abs" style="left:1095.3px;top:511.70000000000005px" width="28.4" height="21" viewBox="0 0 29.0 21.0" preserveAspectRatio="none"><path d="M0.00,1.62 L2.07,1.94 L4.14,2.16 L6.21,2.25 L8.29,2.20 L10.36,2.01 L12.43,1.71 L14.50,1.34 L16.57,0.97 L18.64,0.63 L20.71,0.38 L22.79,0.26 L24.86,0.28 L26.93,0.44 L29.00,0.71 L29.00,7.15 L26.93,6.87 L24.86,6.71 L22.79,6.69 L20.71,6.82 L18.64,7.06 L16.57,7.40 L14.50,7.78 L12.43,8.14 L10.36,8.44 L8.29,8.63 L6.21,8.68 L4.14,8.59 L2.07,8.37 L0.00,8.05Z" fill="#b42a3c" /><path d="M0.00,7.75 L2.07,8.07 L4.14,8.29 L6.21,8.38 L8.29,8.33 L10.36,8.14 L12.43,7.84 L14.50,7.48 L16.57,7.10 L18.64,6.76 L20.71,6.52 L22.79,6.39 L24.86,6.41 L26.93,6.57 L29.00,6.85 L29.00,13.28 L26.93,13.01 L24.86,12.85 L22.79,12.83 L20.71,12.95 L18.64,13.20 L16.57,13.53 L14.50,13.91 L12.43,14.27 L10.36,14.57 L8.29,14.76 L6.21,14.82 L4.14,14.73 L2.07,14.50 L0.00,14.18Z" fill="#f5f5f5" /><path d="M0.00,13.88 L2.07,14.20 L4.14,14.43 L6.21,14.52 L8.29,14.46 L10.36,14.27 L12.43,13.97 L14.50,13.61 L16.57,13.23 L18.64,12.90 L20.71,12.65 L22.79,12.53 L24.86,12.55 L26.93,12.71 L29.00,12.98 L29.00,19.26 L26.93,18.99 L24.86,18.83 L22.79,18.81 L20.71,18.93 L18.64,19.18 L16.57,19.52 L14.50,19.89 L12.43,20.26 L10.36,20.56 L8.29,20.75 L6.21,20.80 L4.14,20.71 L2.07,20.49 L0.00,20.17Z" fill="#2b4aa2" /><path d="M0.00,1.77 L2.07,2.09 L4.14,2.31 L6.21,2.40 L8.29,2.35 L10.36,2.16 L12.43,1.86 L14.50,1.49 L16.57,1.12 L18.64,0.78 L20.71,0.53 L22.79,0.41 L24.86,0.43 L26.93,0.59 L29.00,0.86 L29.00,19.26 L26.93,18.99 L24.86,18.83 L22.79,18.81 L20.71,18.93 L18.64,19.18 L16.57,19.52 L14.50,19.89 L12.43,20.26 L10.36,20.56 L8.29,20.75 L6.21,20.80 L4.14,20.71 L2.07,20.49 L0.00,20.17Z" fill="url(#fshade)" /><path d="M0.00,1.77 L2.07,2.09 L4.14,2.31 L6.21,2.40 L8.29,2.35 L10.36,2.16 L12.43,1.86 L14.50,1.49 L16.57,1.12 L18.64,0.78 L20.71,0.53 L22.79,0.41 L24.86,0.43 L26.93,0.59 L29.00,0.86 L29.00,19.26 L26.93,18.99 L24.86,18.83 L22.79,18.81 L20.71,18.93 L18.64,19.18 L16.57,19.52 L14.50,19.89 L12.43,20.26 L10.36,20.56 L8.29,20.75 L6.21,20.80 L4.14,20.71 L2.07,20.49 L0.00,20.17Z" fill="none" stroke="rgba(0,0,0,0.18)" stroke-width="0.5"/></svg>
<span class="t" style="left:1142.90px;top:508.60px;font-size:32px;color:#0a0a0a;letter-spacing:0.851px;-webkit-text-stroke:0.3px #0a0a0a;">Dutch</span>
<svg class="abs" style="left:1095.3px;top:611.4px" width="28.4" height="21" viewBox="0 0 29.0 21.0" preserveAspectRatio="none"><path d="M0.00,1.62 L2.07,1.94 L4.14,2.16 L6.21,2.25 L8.29,2.20 L10.36,2.01 L12.43,1.71 L14.50,1.34 L16.57,0.97 L18.64,0.63 L20.71,0.38 L22.79,0.26 L24.86,0.28 L26.93,0.44 L29.00,0.71 L29.00,19.26 L26.93,18.99 L24.86,18.83 L22.79,18.81 L20.71,18.93 L18.64,19.18 L16.57,19.52 L14.50,19.89 L12.43,20.26 L10.36,20.56 L8.29,20.75 L6.21,20.80 L4.14,20.71 L2.07,20.49 L0.00,20.17Z" fill="#1b7d4b" /><text x="14.5" y="11.09" font-size="7" font-weight="700" text-anchor="middle" fill="#e8f3ea" font-family='Liberation Sans, DejaVu Sans, sans-serif' textLength="17" lengthAdjust="spacingAndGlyphs">لا إله</text><rect x="9.5" y="14.09" width="10" height="0.9" rx="0.4" fill="#e8f3ea"/><path d="M0.00,1.77 L2.07,2.09 L4.14,2.31 L6.21,2.40 L8.29,2.35 L10.36,2.16 L12.43,1.86 L14.50,1.49 L16.57,1.12 L18.64,0.78 L20.71,0.53 L22.79,0.41 L24.86,0.43 L26.93,0.59 L29.00,0.86 L29.00,19.26 L26.93,18.99 L24.86,18.83 L22.79,18.81 L20.71,18.93 L18.64,19.18 L16.57,19.52 L14.50,19.89 L12.43,20.26 L10.36,20.56 L8.29,20.75 L6.21,20.80 L4.14,20.71 L2.07,20.49 L0.00,20.17Z" fill="url(#fshade)" /><path d="M0.00,1.77 L2.07,2.09 L4.14,2.31 L6.21,2.40 L8.29,2.35 L10.36,2.16 L12.43,1.86 L14.50,1.49 L16.57,1.12 L18.64,0.78 L20.71,0.53 L22.79,0.41 L24.86,0.43 L26.93,0.59 L29.00,0.86 L29.00,19.26 L26.93,18.99 L24.86,18.83 L22.79,18.81 L20.71,18.93 L18.64,19.18 L16.57,19.52 L14.50,19.89 L12.43,20.26 L10.36,20.56 L8.29,20.75 L6.21,20.80 L4.14,20.71 L2.07,20.49 L0.00,20.17Z" fill="none" stroke="rgba(0,0,0,0.18)" stroke-width="0.5"/></svg>
<span class="t" style="left:1141.20px;top:608.30px;font-size:32px;color:#0a0a0a;letter-spacing:-0.241px;-webkit-text-stroke:0.3px #0a0a0a;">Arabic</span>
<svg class="abs" style="left:1095.3px;top:661.2500000000001px" width="28.4" height="21" viewBox="0 0 29.0 21.0" preserveAspectRatio="none"><path d="M0.00,1.62 L2.07,1.94 L4.14,2.16 L6.21,2.25 L8.29,2.20 L10.36,2.01 L12.43,1.71 L14.50,1.34 L16.57,0.97 L18.64,0.63 L20.71,0.38 L22.79,0.26 L24.86,0.28 L26.93,0.44 L29.00,0.71 L29.00,7.15 L26.93,6.87 L24.86,6.71 L22.79,6.69 L20.71,6.82 L18.64,7.06 L16.57,7.40 L14.50,7.78 L12.43,8.14 L10.36,8.44 L8.29,8.63 L6.21,8.68 L4.14,8.59 L2.07,8.37 L0.00,8.05Z" fill="#f59a37" /><path d="M0.00,7.75 L2.07,8.07 L4.14,8.29 L6.21,8.38 L8.29,8.33 L10.36,8.14 L12.43,7.84 L14.50,7.48 L16.57,7.10 L18.64,6.76 L20.71,6.52 L22.79,6.39 L24.86,6.41 L26.93,6.57 L29.00,6.85 L29.00,13.28 L26.93,13.01 L24.86,12.85 L22.79,12.83 L20.71,12.95 L18.64,13.20 L16.57,13.53 L14.50,13.91 L12.43,14.27 L10.36,14.57 L8.29,14.76 L6.21,14.82 L4.14,14.73 L2.07,14.50 L0.00,14.18Z" fill="#f7f7f7" /><path d="M0.00,13.88 L2.07,14.20 L4.14,14.43 L6.21,14.52 L8.29,14.46 L10.36,14.27 L12.43,13.97 L14.50,13.61 L16.57,13.23 L18.64,12.90 L20.71,12.65 L22.79,12.53 L24.86,12.55 L26.93,12.71 L29.00,12.98 L29.00,19.26 L26.93,18.99 L24.86,18.83 L22.79,18.81 L20.71,18.93 L18.64,19.18 L16.57,19.52 L14.50,19.89 L12.43,20.26 L10.36,20.56 L8.29,20.75 L6.21,20.80 L4.14,20.71 L2.07,20.49 L0.00,20.17Z" fill="#1f8f2f" /><circle cx="14.50" cy="10.69" r="2.6" fill="none" stroke="#2a3a9a" stroke-width="0.9"/><circle cx="14.50" cy="10.69" r="0.7" fill="#2a3a9a" /><path d="M0.00,1.77 L2.07,2.09 L4.14,2.31 L6.21,2.40 L8.29,2.35 L10.36,2.16 L12.43,1.86 L14.50,1.49 L16.57,1.12 L18.64,0.78 L20.71,0.53 L22.79,0.41 L24.86,0.43 L26.93,0.59 L29.00,0.86 L29.00,19.26 L26.93,18.99 L24.86,18.83 L22.79,18.81 L20.71,18.93 L18.64,19.18 L16.57,19.52 L14.50,19.89 L12.43,20.26 L10.36,20.56 L8.29,20.75 L6.21,20.80 L4.14,20.71 L2.07,20.49 L0.00,20.17Z" fill="url(#fshade)" /><path d="M0.00,1.77 L2.07,2.09 L4.14,2.31 L6.21,2.40 L8.29,2.35 L10.36,2.16 L12.43,1.86 L14.50,1.49 L16.57,1.12 L18.64,0.78 L20.71,0.53 L22.79,0.41 L24.86,0.43 L26.93,0.59 L29.00,0.86 L29.00,19.26 L26.93,18.99 L24.86,18.83 L22.79,18.81 L20.71,18.93 L18.64,19.18 L16.57,19.52 L14.50,19.89 L12.43,20.26 L10.36,20.56 L8.29,20.75 L6.21,20.80 L4.14,20.71 L2.07,20.49 L0.00,20.17Z" fill="none" stroke="rgba(0,0,0,0.18)" stroke-width="0.5"/></svg>
<span class="t" style="left:1142.90px;top:658.15px;font-size:32px;color:#0a0a0a;letter-spacing:-0.158px;-webkit-text-stroke:0.3px #0a0a0a;">Indian</span>
<svg class="abs" style="left:1095.3px;top:711.1px" width="28.4" height="21" viewBox="0 0 29.0 21.0" preserveAspectRatio="none"><path d="M0.00,1.62 L2.07,1.94 L4.14,2.16 L6.21,2.25 L8.29,2.20 L10.36,2.01 L12.43,1.71 L14.50,1.34 L16.57,0.97 L18.64,0.63 L20.71,0.38 L22.79,0.26 L24.86,0.28 L26.93,0.44 L29.00,0.71 L29.00,19.26 L26.93,18.99 L24.86,18.83 L22.79,18.81 L20.71,18.93 L18.64,19.18 L16.57,19.52 L14.50,19.89 L12.43,20.26 L10.36,20.56 L8.29,20.75 L6.21,20.80 L4.14,20.71 L2.07,20.49 L0.00,20.17Z" fill="#d62a2f" /><path d="M5.20,4.57 L5.84,6.29 L7.67,6.37 L6.24,7.51 L6.73,9.28 L5.20,8.26 L3.67,9.28 L4.16,7.51 L2.73,6.37 L4.56,6.29Z" fill="#f8d13a" /><path d="M9.91,3.29 L9.91,3.93 L10.50,4.17 L9.90,4.37 L9.85,5.00 L9.47,4.49 L8.85,4.64 L9.22,4.13 L8.89,3.59 L9.50,3.78Z" fill="#f8d13a" /><path d="M11.71,5.07 L11.71,5.71 L12.30,5.95 L11.70,6.15 L11.65,6.78 L11.27,6.27 L10.65,6.42 L11.02,5.90 L10.69,5.36 L11.30,5.55Z" fill="#f8d13a" /><path d="M11.71,7.77 L11.71,8.41 L12.30,8.65 L11.70,8.85 L11.65,9.48 L11.27,8.97 L10.65,9.12 L11.02,8.60 L10.69,8.06 L11.30,8.25Z" fill="#f8d13a" /><path d="M9.91,9.99 L9.91,10.63 L10.50,10.87 L9.90,11.07 L9.85,11.70 L9.47,11.19 L8.85,11.34 L9.22,10.83 L8.89,10.29 L9.50,10.48Z" fill="#f8d13a" /><path d="M0.00,1.77 L2.07,2.09 L4.14,2.31 L6.21,2.40 L8.29,2.35 L10.36,2.16 L12.43,1.86 L14.50,1.49 L16.57,1.12 L18.64,0.78 L20.71,0.53 L22.79,0.41 L24.86,0.43 L26.93,0.59 L29.00,0.86 L29.00,19.26 L26.93,18.99 L24.86,18.83 L22.79,18.81 L20.71,18.93 L18.64,19.18 L16.57,19.52 L14.50,19.89 L12.43,20.26 L10.36,20.56 L8.29,20.75 L6.21,20.80 L4.14,20.71 L2.07,20.49 L0.00,20.17Z" fill="url(#fshade)" /><path d="M0.00,1.77 L2.07,2.09 L4.14,2.31 L6.21,2.40 L8.29,2.35 L10.36,2.16 L12.43,1.86 L14.50,1.49 L16.57,1.12 L18.64,0.78 L20.71,0.53 L22.79,0.41 L24.86,0.43 L26.93,0.59 L29.00,0.86 L29.00,19.26 L26.93,18.99 L24.86,18.83 L22.79,18.81 L20.71,18.93 L18.64,19.18 L16.57,19.52 L14.50,19.89 L12.43,20.26 L10.36,20.56 L8.29,20.75 L6.21,20.80 L4.14,20.71 L2.07,20.49 L0.00,20.17Z" fill="none" stroke="rgba(0,0,0,0.18)" stroke-width="0.5"/></svg>
<span class="t" style="left:1142.40px;top:708.00px;font-size:32px;color:#0a0a0a;letter-spacing:-0.752px;-webkit-text-stroke:0.3px #0a0a0a;">Chinese</span>
<svg class="abs" style="left:1095.3px;top:760.9500000000002px" width="28.4" height="21" viewBox="0 0 29.0 21.0" preserveAspectRatio="none"><path d="M0.00,1.62 L2.07,1.94 L4.14,2.16 L6.21,2.25 L8.29,2.20 L10.36,2.01 L12.43,1.71 L14.50,1.34 L16.57,0.97 L18.64,0.63 L20.71,0.38 L22.79,0.26 L24.86,0.28 L26.93,0.44 L29.00,0.71 L29.00,19.26 L26.93,18.99 L24.86,18.83 L22.79,18.81 L20.71,18.93 L18.64,19.18 L16.57,19.52 L14.50,19.89 L12.43,20.26 L10.36,20.56 L8.29,20.75 L6.21,20.80 L4.14,20.71 L2.07,20.49 L0.00,20.17Z" fill="#f4f4f4" /><circle cx="14.50" cy="10.69" r="5.8" fill="#c8283f" /><path d="M0.00,1.77 L2.07,2.09 L4.14,2.31 L6.21,2.40 L8.29,2.35 L10.36,2.16 L12.43,1.86 L14.50,1.49 L16.57,1.12 L18.64,0.78 L20.71,0.53 L22.79,0.41 L24.86,0.43 L26.93,0.59 L29.00,0.86 L29.00,19.26 L26.93,18.99 L24.86,18.83 L22.79,18.81 L20.71,18.93 L18.64,19.18 L16.57,19.52 L14.50,19.89 L12.43,20.26 L10.36,20.56 L8.29,20.75 L6.21,20.80 L4.14,20.71 L2.07,20.49 L0.00,20.17Z" fill="url(#fshade)" /><path d="M0.00,1.77 L2.07,2.09 L4.14,2.31 L6.21,2.40 L8.29,2.35 L10.36,2.16 L12.43,1.86 L14.50,1.49 L16.57,1.12 L18.64,0.78 L20.71,0.53 L22.79,0.41 L24.86,0.43 L26.93,0.59 L29.00,0.86 L29.00,19.26 L26.93,18.99 L24.86,18.83 L22.79,18.81 L20.71,18.93 L18.64,19.18 L16.57,19.52 L14.50,19.89 L12.43,20.26 L10.36,20.56 L8.29,20.75 L6.21,20.80 L4.14,20.71 L2.07,20.49 L0.00,20.17Z" fill="none" stroke="rgba(0,0,0,0.18)" stroke-width="0.5"/></svg>
<span class="t" style="left:1141.80px;top:757.85px;font-size:32px;color:#0a0a0a;letter-spacing:-1.483px;-webkit-text-stroke:0.3px #0a0a0a;">Japanese</span>
<svg class="abs" style="left:1095.3px;top:810.8000000000001px" width="28.4" height="21" viewBox="0 0 29.0 21.0" preserveAspectRatio="none"><path d="M0.00,1.62 L2.07,1.94 L4.14,2.16 L6.21,2.25 L8.29,2.20 L10.36,2.01 L12.43,1.71 L14.50,1.34 L16.57,0.97 L18.64,0.63 L20.71,0.38 L22.79,0.26 L24.86,0.28 L26.93,0.44 L29.00,0.71 L29.00,19.26 L26.93,18.99 L24.86,18.83 L22.79,18.81 L20.71,18.93 L18.64,19.18 L16.57,19.52 L14.50,19.89 L12.43,20.26 L10.36,20.56 L8.29,20.75 L6.21,20.80 L4.14,20.71 L2.07,20.49 L0.00,20.17Z" fill="#f4f4f4" /><g transform="rotate(-30 14.50 10.69)"><path d="M9.10,10.69 A5.4,5.4 0 0 1 19.90,10.69 Z" fill="#c8303a"/><path d="M9.10,10.69 A5.4,5.4 0 0 0 19.90,10.69 Z" fill="#23458f"/><circle cx="11.80" cy="10.69" r="2.7" fill="#c8303a"/><circle cx="17.20" cy="10.69" r="2.7" fill="#23458f"/></g><g transform="rotate(-55 4.6 6.14)" fill="#333"><rect x="2.3999999999999995" y="4.19" width="4.4" height="0.9"/><rect x="2.3999999999999995" y="5.69" width="4.4" height="0.9"/><rect x="2.3999999999999995" y="7.19" width="4.4" height="0.9"/></g><g transform="rotate(55 24.4 4.21)" fill="#333"><rect x="22.2" y="2.26" width="4.4" height="0.9"/><rect x="22.2" y="3.76" width="4.4" height="0.9"/><rect x="22.2" y="5.26" width="4.4" height="0.9"/></g><g transform="rotate(55 4.6 16.94)" fill="#333"><rect x="2.3999999999999995" y="14.99" width="4.4" height="0.9"/><rect x="2.3999999999999995" y="16.49" width="4.4" height="0.9"/><rect x="2.3999999999999995" y="17.99" width="4.4" height="0.9"/></g><g transform="rotate(-55 24.4 15.01)" fill="#333"><rect x="22.2" y="13.06" width="4.4" height="0.9"/><rect x="22.2" y="14.56" width="4.4" height="0.9"/><rect x="22.2" y="16.06" width="4.4" height="0.9"/></g><path d="M0.00,1.77 L2.07,2.09 L4.14,2.31 L6.21,2.40 L8.29,2.35 L10.36,2.16 L12.43,1.86 L14.50,1.49 L16.57,1.12 L18.64,0.78 L20.71,0.53 L22.79,0.41 L24.86,0.43 L26.93,0.59 L29.00,0.86 L29.00,19.26 L26.93,18.99 L24.86,18.83 L22.79,18.81 L20.71,18.93 L18.64,19.18 L16.57,19.52 L14.50,19.89 L12.43,20.26 L10.36,20.56 L8.29,20.75 L6.21,20.80 L4.14,20.71 L2.07,20.49 L0.00,20.17Z" fill="url(#fshade)" /><path d="M0.00,1.77 L2.07,2.09 L4.14,2.31 L6.21,2.40 L8.29,2.35 L10.36,2.16 L12.43,1.86 L14.50,1.49 L16.57,1.12 L18.64,0.78 L20.71,0.53 L22.79,0.41 L24.86,0.43 L26.93,0.59 L29.00,0.86 L29.00,19.26 L26.93,18.99 L24.86,18.83 L22.79,18.81 L20.71,18.93 L18.64,19.18 L16.57,19.52 L14.50,19.89 L12.43,20.26 L10.36,20.56 L8.29,20.75 L6.21,20.80 L4.14,20.71 L2.07,20.49 L0.00,20.17Z" fill="none" stroke="rgba(0,0,0,0.18)" stroke-width="0.5"/></svg>
<span class="t" style="left:1142.90px;top:807.70px;font-size:32px;color:#0a0a0a;letter-spacing:-0.438px;-webkit-text-stroke:0.3px #0a0a0a;">Korean</span>
<svg class="abs" style="left:1095.3px;top:860.65px" width="28.4" height="21" viewBox="0 0 29.0 21.0" preserveAspectRatio="none"><path d="M0.00,1.62 L2.07,1.94 L4.14,2.16 L6.21,2.25 L8.29,2.20 L10.36,2.01 L12.43,1.71 L14.50,1.34 L16.57,0.97 L18.64,0.63 L20.71,0.38 L22.79,0.26 L24.86,0.28 L26.93,0.44 L29.00,0.71 L29.00,19.26 L26.93,18.99 L24.86,18.83 L22.79,18.81 L20.71,18.93 L18.64,19.18 L16.57,19.52 L14.50,19.89 L12.43,20.26 L10.36,20.56 L8.29,20.75 L6.21,20.80 L4.14,20.71 L2.07,20.49 L0.00,20.17Z" fill="#1c7a5c" /><circle cx="13.70" cy="10.84" r="6.5" fill="#e8472e" /><path d="M0.00,1.77 L2.07,2.09 L4.14,2.31 L6.21,2.40 L8.29,2.35 L10.36,2.16 L12.43,1.86 L14.50,1.49 L16.57,1.12 L18.64,0.78 L20.71,0.53 L22.79,0.41 L24.86,0.43 L26.93,0.59 L29.00,0.86 L29.00,19.26 L26.93,18.99 L24.86,18.83 L22.79,18.81 L20.71,18.93 L18.64,19.18 L16.57,19.52 L14.50,19.89 L12.43,20.26 L10.36,20.56 L8.29,20.75 L6.21,20.80 L4.14,20.71 L2.07,20.49 L0.00,20.17Z" fill="url(#fshade)" /><path d="M0.00,1.77 L2.07,2.09 L4.14,2.31 L6.21,2.40 L8.29,2.35 L10.36,2.16 L12.43,1.86 L14.50,1.49 L16.57,1.12 L18.64,0.78 L20.71,0.53 L22.79,0.41 L24.86,0.43 L26.93,0.59 L29.00,0.86 L29.00,19.26 L26.93,18.99 L24.86,18.83 L22.79,18.81 L20.71,18.93 L18.64,19.18 L16.57,19.52 L14.50,19.89 L12.43,20.26 L10.36,20.56 L8.29,20.75 L6.21,20.80 L4.14,20.71 L2.07,20.49 L0.00,20.17Z" fill="none" stroke="rgba(0,0,0,0.18)" stroke-width="0.5"/></svg>
<span class="t" style="left:1142.90px;top:857.55px;font-size:32px;color:#0a0a0a;letter-spacing:-0.473px;-webkit-text-stroke:0.3px #0a0a0a;">Bengali</span>
<svg class="abs" style="left:1095.3px;top:910.5000000000001px" width="28.4" height="21" viewBox="0 0 29.0 21.0" preserveAspectRatio="none"><path d="M0.00,1.62 L2.07,1.94 L4.14,2.16 L6.21,2.25 L8.29,2.20 L10.36,2.01 L12.43,1.71 L14.50,1.34 L16.57,0.97 L18.64,0.63 L20.71,0.38 L22.79,0.26 L24.86,0.28 L26.93,0.44 L29.00,0.71 L29.00,7.15 L26.93,6.87 L24.86,6.71 L22.79,6.69 L20.71,6.82 L18.64,7.06 L16.57,7.40 L14.50,7.78 L12.43,8.14 L10.36,8.44 L8.29,8.63 L6.21,8.68 L4.14,8.59 L2.07,8.37 L0.00,8.05Z" fill="#f59a37" /><path d="M0.00,7.75 L2.07,8.07 L4.14,8.29 L6.21,8.38 L8.29,8.33 L10.36,8.14 L12.43,7.84 L14.50,7.48 L16.57,7.10 L18.64,6.76 L20.71,6.52 L22.79,6.39 L24.86,6.41 L26.93,6.57 L29.00,6.85 L29.00,13.28 L26.93,13.01 L24.86,12.85 L22.79,12.83 L20.71,12.95 L18.64,13.20 L16.57,13.53 L14.50,13.91 L12.43,14.27 L10.36,14.57 L8.29,14.76 L6.21,14.82 L4.14,14.73 L2.07,14.50 L0.00,14.18Z" fill="#f7f7f7" /><path d="M0.00,13.88 L2.07,14.20 L4.14,14.43 L6.21,14.52 L8.29,14.46 L10.36,14.27 L12.43,13.97 L14.50,13.61 L16.57,13.23 L18.64,12.90 L20.71,12.65 L22.79,12.53 L24.86,12.55 L26.93,12.71 L29.00,12.98 L29.00,19.26 L26.93,18.99 L24.86,18.83 L22.79,18.81 L20.71,18.93 L18.64,19.18 L16.57,19.52 L14.50,19.89 L12.43,20.26 L10.36,20.56 L8.29,20.75 L6.21,20.80 L4.14,20.71 L2.07,20.49 L0.00,20.17Z" fill="#1f8f2f" /><circle cx="14.50" cy="10.69" r="2.6" fill="none" stroke="#2a3a9a" stroke-width="0.9"/><circle cx="14.50" cy="10.69" r="0.7" fill="#2a3a9a" /><path d="M0.00,1.77 L2.07,2.09 L4.14,2.31 L6.21,2.40 L8.29,2.35 L10.36,2.16 L12.43,1.86 L14.50,1.49 L16.57,1.12 L18.64,0.78 L20.71,0.53 L22.79,0.41 L24.86,0.43 L26.93,0.59 L29.00,0.86 L29.00,19.26 L26.93,18.99 L24.86,18.83 L22.79,18.81 L20.71,18.93 L18.64,19.18 L16.57,19.52 L14.50,19.89 L12.43,20.26 L10.36,20.56 L8.29,20.75 L6.21,20.80 L4.14,20.71 L2.07,20.49 L0.00,20.17Z" fill="url(#fshade)" /><path d="M0.00,1.77 L2.07,2.09 L4.14,2.31 L6.21,2.40 L8.29,2.35 L10.36,2.16 L12.43,1.86 L14.50,1.49 L16.57,1.12 L18.64,0.78 L20.71,0.53 L22.79,0.41 L24.86,0.43 L26.93,0.59 L29.00,0.86 L29.00,19.26 L26.93,18.99 L24.86,18.83 L22.79,18.81 L20.71,18.93 L18.64,19.18 L16.57,19.52 L14.50,19.89 L12.43,20.26 L10.36,20.56 L8.29,20.75 L6.21,20.80 L4.14,20.71 L2.07,20.49 L0.00,20.17Z" fill="none" stroke="rgba(0,0,0,0.18)" stroke-width="0.5"/></svg>
<span class="t" style="left:1142.90px;top:907.40px;font-size:32px;color:#0a0a0a;letter-spacing:0.797px;-webkit-text-stroke:0.3px #0a0a0a;">Hindi</span>
<svg class="abs" style="left:1095.3px;top:960.35px" width="28.4" height="21" viewBox="0 0 29.0 21.0" preserveAspectRatio="none"><path d="M0.00,1.62 L2.07,1.94 L4.14,2.16 L6.21,2.25 L8.29,2.20 L10.36,2.01 L12.43,1.71 L14.50,1.34 L16.57,0.97 L18.64,0.63 L20.71,0.38 L22.79,0.26 L24.86,0.28 L26.93,0.44 L29.00,0.71 L29.00,4.08 L26.93,3.81 L24.86,3.65 L22.79,3.63 L20.71,3.75 L18.64,4.00 L16.57,4.33 L14.50,4.71 L12.43,5.07 L10.36,5.37 L8.29,5.56 L6.21,5.62 L4.14,5.53 L2.07,5.30 L0.00,4.98Z" fill="#d8303c" /><path d="M0.00,4.68 L2.07,5.00 L4.14,5.23 L6.21,5.32 L8.29,5.26 L10.36,5.07 L12.43,4.77 L14.50,4.41 L16.57,4.03 L18.64,3.70 L20.71,3.45 L22.79,3.33 L24.86,3.35 L26.93,3.51 L29.00,3.78 L29.00,7.15 L26.93,6.87 L24.86,6.71 L22.79,6.69 L20.71,6.82 L18.64,7.06 L16.57,7.40 L14.50,7.78 L12.43,8.14 L10.36,8.44 L8.29,8.63 L6.21,8.68 L4.14,8.59 L2.07,8.37 L0.00,8.05Z" fill="#f5f5f5" /><path d="M0.00,7.75 L2.07,8.07 L4.14,8.29 L6.21,8.38 L8.29,8.33 L10.36,8.14 L12.43,7.84 L14.50,7.48 L16.57,7.10 L18.64,6.76 L20.71,6.52 L22.79,6.39 L24.86,6.41 L26.93,6.57 L29.00,6.85 L29.00,13.28 L26.93,13.01 L24.86,12.85 L22.79,12.83 L20.71,12.95 L18.64,13.20 L16.57,13.53 L14.50,13.91 L12.43,14.27 L10.36,14.57 L8.29,14.76 L6.21,14.82 L4.14,14.73 L2.07,14.50 L0.00,14.18Z" fill="#28408f" /><path d="M0.00,13.88 L2.07,14.20 L4.14,14.43 L6.21,14.52 L8.29,14.46 L10.36,14.27 L12.43,13.97 L14.50,13.61 L16.57,13.23 L18.64,12.90 L20.71,12.65 L22.79,12.53 L24.86,12.55 L26.93,12.71 L29.00,12.98 L29.00,16.35 L26.93,16.07 L24.86,15.91 L22.79,15.89 L20.71,16.02 L18.64,16.26 L16.57,16.60 L14.50,16.98 L12.43,17.34 L10.36,17.64 L8.29,17.83 L6.21,17.88 L4.14,17.79 L2.07,17.57 L0.00,17.25Z" fill="#f5f5f5" /><path d="M0.00,16.95 L2.07,17.27 L4.14,17.49 L6.21,17.58 L8.29,17.53 L10.36,17.34 L12.43,17.04 L14.50,16.68 L16.57,16.30 L18.64,15.96 L20.71,15.72 L22.79,15.59 L24.86,15.61 L26.93,15.77 L29.00,16.05 L29.00,19.26 L26.93,18.99 L24.86,18.83 L22.79,18.81 L20.71,18.93 L18.64,19.18 L16.57,19.52 L14.50,19.89 L12.43,20.26 L10.36,20.56 L8.29,20.75 L6.21,20.80 L4.14,20.71 L2.07,20.49 L0.00,20.17Z" fill="#d8303c" /><path d="M0.00,1.77 L2.07,2.09 L4.14,2.31 L6.21,2.40 L8.29,2.35 L10.36,2.16 L12.43,1.86 L14.50,1.49 L16.57,1.12 L18.64,0.78 L20.71,0.53 L22.79,0.41 L24.86,0.43 L26.93,0.59 L29.00,0.86 L29.00,19.26 L26.93,18.99 L24.86,18.83 L22.79,18.81 L20.71,18.93 L18.64,19.18 L16.57,19.52 L14.50,19.89 L12.43,20.26 L10.36,20.56 L8.29,20.75 L6.21,20.80 L4.14,20.71 L2.07,20.49 L0.00,20.17Z" fill="url(#fshade)" /><path d="M0.00,1.77 L2.07,2.09 L4.14,2.31 L6.21,2.40 L8.29,2.35 L10.36,2.16 L12.43,1.86 L14.50,1.49 L16.57,1.12 L18.64,0.78 L20.71,0.53 L22.79,0.41 L24.86,0.43 L26.93,0.59 L29.00,0.86 L29.00,19.26 L26.93,18.99 L24.86,18.83 L22.79,18.81 L20.71,18.93 L18.64,19.18 L16.57,19.52 L14.50,19.89 L12.43,20.26 L10.36,20.56 L8.29,20.75 L6.21,20.80 L4.14,20.71 L2.07,20.49 L0.00,20.17Z" fill="none" stroke="rgba(0,0,0,0.18)" stroke-width="0.5"/></svg>
<span class="t" style="left:1141.70px;top:957.25px;font-size:32px;color:#0a0a0a;letter-spacing:-0.247px;-webkit-text-stroke:0.3px #0a0a0a;">Thai</span>
<svg class="abs" style="left:1095.3px;top:1010.2000000000002px" width="28.4" height="21" viewBox="0 0 29.0 21.0" preserveAspectRatio="none"><path d="M0.00,1.62 L2.07,1.94 L4.14,2.16 L6.21,2.25 L8.29,2.20 L10.36,2.01 L12.43,1.71 L14.50,1.34 L16.57,0.97 L18.64,0.63 L20.71,0.38 L22.79,0.26 L24.86,0.28 L26.93,0.44 L29.00,0.71 L29.00,19.26 L26.93,18.99 L24.86,18.83 L22.79,18.81 L20.71,18.93 L18.64,19.18 L16.57,19.52 L14.50,19.89 L12.43,20.26 L10.36,20.56 L8.29,20.75 L6.21,20.80 L4.14,20.71 L2.07,20.49 L0.00,20.17Z" fill="#d8292f" /><path d="M14.50,4.99 L15.98,8.96 L20.21,9.14 L16.90,11.77 L18.03,15.85 L14.50,13.51 L10.97,15.85 L12.10,11.77 L8.79,9.14 L13.02,8.96Z" fill="#f8d93a" /><path d="M0.00,1.77 L2.07,2.09 L4.14,2.31 L6.21,2.40 L8.29,2.35 L10.36,2.16 L12.43,1.86 L14.50,1.49 L16.57,1.12 L18.64,0.78 L20.71,0.53 L22.79,0.41 L24.86,0.43 L26.93,0.59 L29.00,0.86 L29.00,19.26 L26.93,18.99 L24.86,18.83 L22.79,18.81 L20.71,18.93 L18.64,19.18 L16.57,19.52 L14.50,19.89 L12.43,20.26 L10.36,20.56 L8.29,20.75 L6.21,20.80 L4.14,20.71 L2.07,20.49 L0.00,20.17Z" fill="url(#fshade)" /><path d="M0.00,1.77 L2.07,2.09 L4.14,2.31 L6.21,2.40 L8.29,2.35 L10.36,2.16 L12.43,1.86 L14.50,1.49 L16.57,1.12 L18.64,0.78 L20.71,0.53 L22.79,0.41 L24.86,0.43 L26.93,0.59 L29.00,0.86 L29.00,19.26 L26.93,18.99 L24.86,18.83 L22.79,18.81 L20.71,18.93 L18.64,19.18 L16.57,19.52 L14.50,19.89 L12.43,20.26 L10.36,20.56 L8.29,20.75 L6.21,20.80 L4.14,20.71 L2.07,20.49 L0.00,20.17Z" fill="none" stroke="rgba(0,0,0,0.18)" stroke-width="0.5"/></svg>
<span class="t" style="left:1141.40px;top:1007.10px;font-size:32px;color:#0a0a0a;letter-spacing:-0.190px;-webkit-text-stroke:0.3px #0a0a0a;">Vietnamese</span>
<svg class="abs" style="left:1095.3px;top:1060.05px" width="28.4" height="21" viewBox="0 0 29.0 21.0" preserveAspectRatio="none"><path d="M0.00,1.62 L2.07,1.94 L4.14,2.16 L6.21,2.25 L8.29,2.20 L10.36,2.01 L12.43,1.71 L14.50,1.34 L16.57,0.97 L18.64,0.63 L20.71,0.38 L22.79,0.26 L24.86,0.28 L26.93,0.44 L29.00,0.71 L29.00,19.26 L26.93,18.99 L24.86,18.83 L22.79,18.81 L20.71,18.93 L18.64,19.18 L16.57,19.52 L14.50,19.89 L12.43,20.26 L10.36,20.56 L8.29,20.75 L6.21,20.80 L4.14,20.71 L2.07,20.49 L0.00,20.17Z" fill="#dc2f39" /><circle cx="9.40" cy="11.46" r="4.7" fill="#fff" /><circle cx="10.70" cy="11.31" r="3.8" fill="#dc2f39" /><path d="M14.55,8.57 L15.47,9.73 L16.90,9.33 L16.08,10.57 L16.90,11.80 L15.47,11.40 L14.55,12.56 L14.49,11.08 L13.10,10.57 L14.49,10.05Z" fill="#fff" /><path d="M0.00,1.77 L2.07,2.09 L4.14,2.31 L6.21,2.40 L8.29,2.35 L10.36,2.16 L12.43,1.86 L14.50,1.49 L16.57,1.12 L18.64,0.78 L20.71,0.53 L22.79,0.41 L24.86,0.43 L26.93,0.59 L29.00,0.86 L29.00,19.26 L26.93,18.99 L24.86,18.83 L22.79,18.81 L20.71,18.93 L18.64,19.18 L16.57,19.52 L14.50,19.89 L12.43,20.26 L10.36,20.56 L8.29,20.75 L6.21,20.80 L4.14,20.71 L2.07,20.49 L0.00,20.17Z" fill="url(#fshade)" /><path d="M0.00,1.77 L2.07,2.09 L4.14,2.31 L6.21,2.40 L8.29,2.35 L10.36,2.16 L12.43,1.86 L14.50,1.49 L16.57,1.12 L18.64,0.78 L20.71,0.53 L22.79,0.41 L24.86,0.43 L26.93,0.59 L29.00,0.86 L29.00,19.26 L26.93,18.99 L24.86,18.83 L22.79,18.81 L20.71,18.93 L18.64,19.18 L16.57,19.52 L14.50,19.89 L12.43,20.26 L10.36,20.56 L8.29,20.75 L6.21,20.80 L4.14,20.71 L2.07,20.49 L0.00,20.17Z" fill="none" stroke="rgba(0,0,0,0.18)" stroke-width="0.5"/></svg>
<span class="t" style="left:1141.90px;top:1056.95px;font-size:32px;color:#0a0a0a;letter-spacing:-0.304px;-webkit-text-stroke:0.3px #0a0a0a;">Turkish</span>
<svg class="abs" style="left:1095.3px;top:1109.8999999999999px" width="28.4" height="21" viewBox="0 0 29.0 21.0" preserveAspectRatio="none"><path d="M0.00,1.62 L2.07,1.94 L4.14,2.16 L6.21,2.25 L8.29,2.20 L10.36,2.01 L12.43,1.71 L14.50,1.34 L16.57,0.97 L18.64,0.63 L20.71,0.38 L22.79,0.26 L24.86,0.28 L26.93,0.44 L29.00,0.71 L29.00,7.15 L26.93,6.87 L24.86,6.71 L22.79,6.69 L20.71,6.82 L18.64,7.06 L16.57,7.40 L14.50,7.78 L12.43,8.14 L10.36,8.44 L8.29,8.63 L6.21,8.68 L4.14,8.59 L2.07,8.37 L0.00,8.05Z" fill="#f59a37" /><path d="M0.00,7.75 L2.07,8.07 L4.14,8.29 L6.21,8.38 L8.29,8.33 L10.36,8.14 L12.43,7.84 L14.50,7.48 L16.57,7.10 L18.64,6.76 L20.71,6.52 L22.79,6.39 L24.86,6.41 L26.93,6.57 L29.00,6.85 L29.00,13.28 L26.93,13.01 L24.86,12.85 L22.79,12.83 L20.71,12.95 L18.64,13.20 L16.57,13.53 L14.50,13.91 L12.43,14.27 L10.36,14.57 L8.29,14.76 L6.21,14.82 L4.14,14.73 L2.07,14.50 L0.00,14.18Z" fill="#f7f7f7" /><path d="M0.00,13.88 L2.07,14.20 L4.14,14.43 L6.21,14.52 L8.29,14.46 L10.36,14.27 L12.43,13.97 L14.50,13.61 L16.57,13.23 L18.64,12.90 L20.71,12.65 L22.79,12.53 L24.86,12.55 L26.93,12.71 L29.00,12.98 L29.00,19.26 L26.93,18.99 L24.86,18.83 L22.79,18.81 L20.71,18.93 L18.64,19.18 L16.57,19.52 L14.50,19.89 L12.43,20.26 L10.36,20.56 L8.29,20.75 L6.21,20.80 L4.14,20.71 L2.07,20.49 L0.00,20.17Z" fill="#1f8f2f" /><circle cx="14.50" cy="10.69" r="2.6" fill="none" stroke="#2a3a9a" stroke-width="0.9"/><circle cx="14.50" cy="10.69" r="0.7" fill="#2a3a9a" /><path d="M0.00,1.77 L2.07,2.09 L4.14,2.31 L6.21,2.40 L8.29,2.35 L10.36,2.16 L12.43,1.86 L14.50,1.49 L16.57,1.12 L18.64,0.78 L20.71,0.53 L22.79,0.41 L24.86,0.43 L26.93,0.59 L29.00,0.86 L29.00,19.26 L26.93,18.99 L24.86,18.83 L22.79,18.81 L20.71,18.93 L18.64,19.18 L16.57,19.52 L14.50,19.89 L12.43,20.26 L10.36,20.56 L8.29,20.75 L6.21,20.80 L4.14,20.71 L2.07,20.49 L0.00,20.17Z" fill="url(#fshade)" /><path d="M0.00,1.77 L2.07,2.09 L4.14,2.31 L6.21,2.40 L8.29,2.35 L10.36,2.16 L12.43,1.86 L14.50,1.49 L16.57,1.12 L18.64,0.78 L20.71,0.53 L22.79,0.41 L24.86,0.43 L26.93,0.59 L29.00,0.86 L29.00,19.26 L26.93,18.99 L24.86,18.83 L22.79,18.81 L20.71,18.93 L18.64,19.18 L16.57,19.52 L14.50,19.89 L12.43,20.26 L10.36,20.56 L8.29,20.75 L6.21,20.80 L4.14,20.71 L2.07,20.49 L0.00,20.17Z" fill="none" stroke="rgba(0,0,0,0.18)" stroke-width="0.5"/></svg>
<span class="t" style="left:1142.90px;top:1106.80px;font-size:32px;color:#0a0a0a;letter-spacing:0.379px;-webkit-text-stroke:0.3px #0a0a0a;">Urdu</span>
<svg class="abs" style="left:1095.3px;top:1159.75px" width="28.4" height="21" viewBox="0 0 29.0 21.0" preserveAspectRatio="none"><path d="M0.00,1.62 L2.07,1.94 L4.14,2.16 L6.21,2.25 L8.29,2.20 L10.36,2.01 L12.43,1.71 L14.50,1.34 L16.57,0.97 L18.64,0.63 L20.71,0.38 L22.79,0.26 L24.86,0.28 L26.93,0.44 L29.00,0.71 L29.00,7.15 L26.93,6.87 L24.86,6.71 L22.79,6.69 L20.71,6.82 L18.64,7.06 L16.57,7.40 L14.50,7.78 L12.43,8.14 L10.36,8.44 L8.29,8.63 L6.21,8.68 L4.14,8.59 L2.07,8.37 L0.00,8.05Z" fill="#2c9a47" /><path d="M0.00,7.75 L2.07,8.07 L4.14,8.29 L6.21,8.38 L8.29,8.33 L10.36,8.14 L12.43,7.84 L14.50,7.48 L16.57,7.10 L18.64,6.76 L20.71,6.52 L22.79,6.39 L24.86,6.41 L26.93,6.57 L29.00,6.85 L29.00,13.28 L26.93,13.01 L24.86,12.85 L22.79,12.83 L20.71,12.95 L18.64,13.20 L16.57,13.53 L14.50,13.91 L12.43,14.27 L10.36,14.57 L8.29,14.76 L6.21,14.82 L4.14,14.73 L2.07,14.50 L0.00,14.18Z" fill="#f6f6f6" /><path d="M0.00,13.88 L2.07,14.20 L4.14,14.43 L6.21,14.52 L8.29,14.46 L10.36,14.27 L12.43,13.97 L14.50,13.61 L16.57,13.23 L18.64,12.90 L20.71,12.65 L22.79,12.53 L24.86,12.55 L26.93,12.71 L29.00,12.98 L29.00,19.26 L26.93,18.99 L24.86,18.83 L22.79,18.81 L20.71,18.93 L18.64,19.18 L16.57,19.52 L14.50,19.89 L12.43,20.26 L10.36,20.56 L8.29,20.75 L6.21,20.80 L4.14,20.71 L2.07,20.49 L0.00,20.17Z" fill="#d8333a" /><circle cx="14.50" cy="10.69" r="1.7" fill="#d8333a" /><circle cx="14.50" cy="10.69" r="0.7" fill="#f6f6f6" /><path d="M0.00,1.77 L2.07,2.09 L4.14,2.31 L6.21,2.40 L8.29,2.35 L10.36,2.16 L12.43,1.86 L14.50,1.49 L16.57,1.12 L18.64,0.78 L20.71,0.53 L22.79,0.41 L24.86,0.43 L26.93,0.59 L29.00,0.86 L29.00,19.26 L26.93,18.99 L24.86,18.83 L22.79,18.81 L20.71,18.93 L18.64,19.18 L16.57,19.52 L14.50,19.89 L12.43,20.26 L10.36,20.56 L8.29,20.75 L6.21,20.80 L4.14,20.71 L2.07,20.49 L0.00,20.17Z" fill="url(#fshade)" /><path d="M0.00,1.77 L2.07,2.09 L4.14,2.31 L6.21,2.40 L8.29,2.35 L10.36,2.16 L12.43,1.86 L14.50,1.49 L16.57,1.12 L18.64,0.78 L20.71,0.53 L22.79,0.41 L24.86,0.43 L26.93,0.59 L29.00,0.86 L29.00,19.26 L26.93,18.99 L24.86,18.83 L22.79,18.81 L20.71,18.93 L18.64,19.18 L16.57,19.52 L14.50,19.89 L12.43,20.26 L10.36,20.56 L8.29,20.75 L6.21,20.80 L4.14,20.71 L2.07,20.49 L0.00,20.17Z" fill="none" stroke="rgba(0,0,0,0.18)" stroke-width="0.5"/></svg>
<span class="t" style="left:1142.90px;top:1156.65px;font-size:32px;color:#0a0a0a;letter-spacing:-0.867px;-webkit-text-stroke:0.3px #0a0a0a;">Persian</span>
<span class="t" style="left:1164.00px;top:1235.00px;font-size:27.6px;color:#c0c7cf;letter-spacing:1.664px;-webkit-text-stroke:0.85px #c0c7cf;">APPFOLLOW</span>
</body></html>
